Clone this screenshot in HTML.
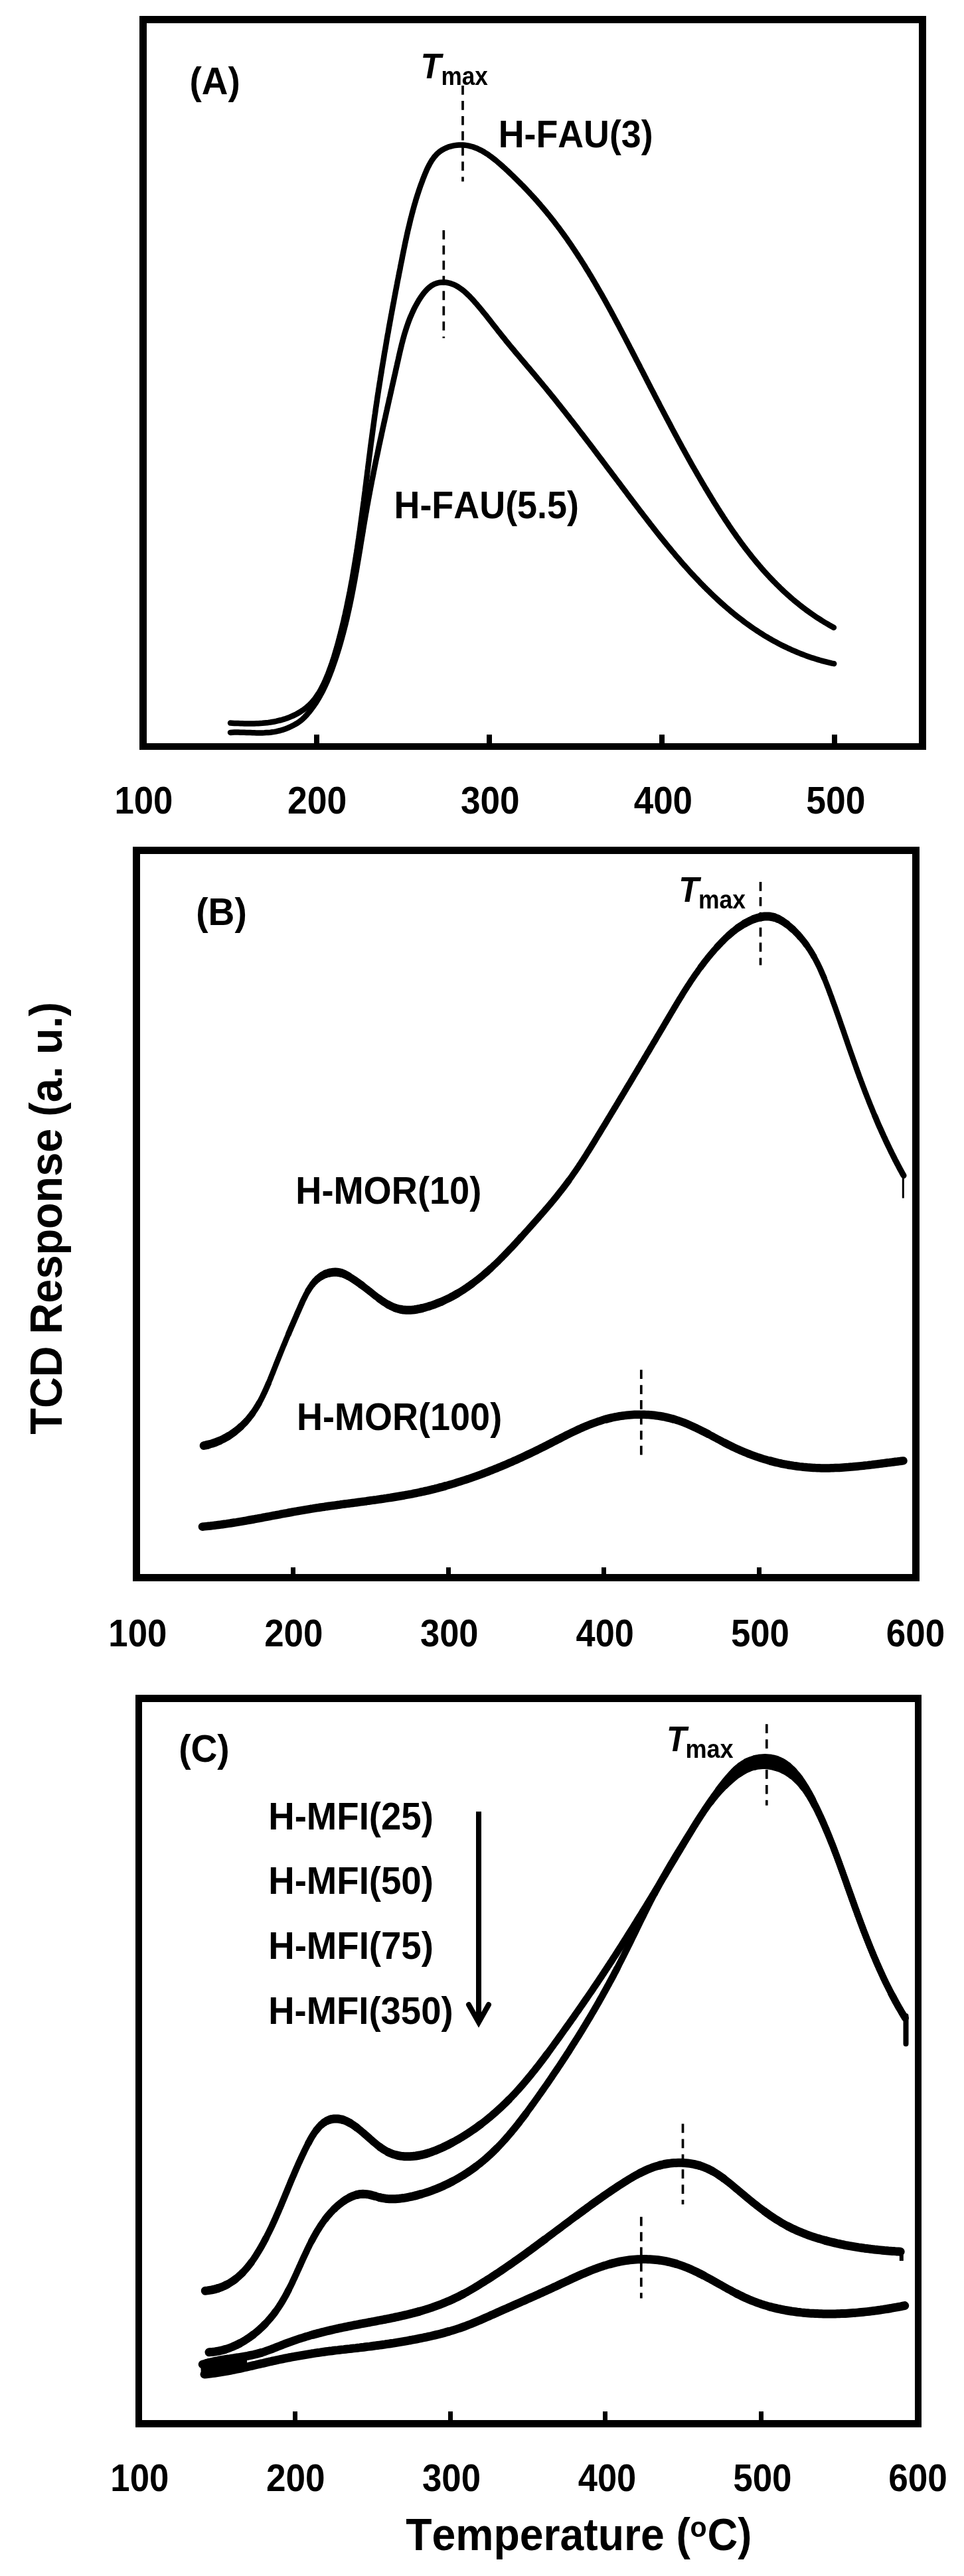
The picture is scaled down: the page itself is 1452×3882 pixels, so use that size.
<!DOCTYPE html><html><head><meta charset="utf-8"><style>html,body{margin:0;padding:0;background:#fff;}svg{display:block;filter:grayscale(100%);}text{font-family:"Liberation Sans",sans-serif;font-weight:bold;font-kerning:none;}</style></head><body>
<svg width="1452" height="3882" viewBox="0 0 1452 3882">
<rect width="1452" height="3882" fill="#fff"/>
<rect x="210.0" y="24.0" width="11.0" height="1106.0" fill="#000"/><rect x="1384.0" y="24.0" width="11.0" height="1106.0" fill="#000"/><rect x="210.0" y="24.0" width="1185.0" height="11.0" fill="#000"/><rect x="210.0" y="1120.0" width="1185.0" height="10.0" fill="#000"/>
<rect x="200.0" y="1276.0" width="11.0" height="1107.0" fill="#000"/><rect x="1374.0" y="1276.0" width="11.0" height="1107.0" fill="#000"/><rect x="200.0" y="1276.0" width="1185.0" height="11.0" fill="#000"/><rect x="200.0" y="2372.0" width="1185.0" height="11.0" fill="#000"/>
<rect x="204.0" y="2554.0" width="10.0" height="1104.0" fill="#000"/><rect x="1378.0" y="2554.0" width="10.0" height="1104.0" fill="#000"/><rect x="204.0" y="2554.0" width="1184.0" height="11.0" fill="#000"/><rect x="204.0" y="3647.0" width="1184.0" height="11.0" fill="#000"/>
<rect x="473" y="1107" width="8" height="14" fill="#000"/>
<rect x="733" y="1107" width="8" height="14" fill="#000"/>
<rect x="993" y="1107" width="8" height="14" fill="#000"/>
<rect x="1253" y="1107" width="8" height="14" fill="#000"/>
<rect x="438" y="2362" width="7" height="11" fill="#000"/>
<rect x="672" y="2362" width="7" height="11" fill="#000"/>
<rect x="906" y="2362" width="7" height="11" fill="#000"/>
<rect x="1140" y="2362" width="7" height="11" fill="#000"/>
<rect x="441" y="3634" width="7" height="14" fill="#000"/>
<rect x="675" y="3634" width="7" height="14" fill="#000"/>
<rect x="908" y="3634" width="7" height="14" fill="#000"/>
<rect x="1143" y="3634" width="7" height="14" fill="#000"/>
<text transform="translate(172.43,1226.14) scale(0.9173,1)" font-size="57.49" font-style="normal">100</text>
<text transform="translate(432.89,1226.14) scale(0.9316,1)" font-size="57.49" font-style="normal">200</text>
<text transform="translate(693.93,1226.14) scale(0.9248,1)" font-size="57.49" font-style="normal">300</text>
<text transform="translate(954.75,1226.14) scale(0.9203,1)" font-size="57.49" font-style="normal">400</text>
<text transform="translate(1214.31,1226.14) scale(0.9293,1)" font-size="57.49" font-style="normal">500</text>
<text transform="translate(163.33,2481.23) scale(0.9084,1)" font-size="58.05" font-style="normal">100</text>
<text transform="translate(398.17,2481.23) scale(0.9107,1)" font-size="58.05" font-style="normal">200</text>
<text transform="translate(633.00,2481.23) scale(0.9040,1)" font-size="58.05" font-style="normal">300</text>
<text transform="translate(867.61,2481.23) scale(0.8996,1)" font-size="58.05" font-style="normal">400</text>
<text transform="translate(1100.98,2481.23) scale(0.9084,1)" font-size="58.05" font-style="normal">500</text>
<text transform="translate(1334.86,2481.23) scale(0.9118,1)" font-size="58.05" font-style="normal">600</text>
<text transform="translate(166.33,3754.04) scale(0.9173,1)" font-size="57.49" font-style="normal">100</text>
<text transform="translate(401.06,3754.04) scale(0.9240,1)" font-size="57.49" font-style="normal">200</text>
<text transform="translate(635.99,3754.04) scale(0.9172,1)" font-size="57.49" font-style="normal">300</text>
<text transform="translate(870.71,3754.04) scale(0.9128,1)" font-size="57.49" font-style="normal">400</text>
<text transform="translate(1104.17,3754.04) scale(0.9217,1)" font-size="57.49" font-style="normal">500</text>
<text transform="translate(1338.15,3754.04) scale(0.9251,1)" font-size="57.49" font-style="normal">600</text>
<text transform="translate(93.00,2161.63) rotate(-90) scale(0.9508,1)" font-size="68.17">TCD Response (a. u.)</text>
<text transform="translate(611.28,3843.10) scale(0.9412,1)" font-size="68.32" font-style="normal">Temperature (</text>
<text transform="translate(1039.59,3822.80) scale(0.9484,1)" font-size="43.34" font-style="normal">o</text>
<text transform="translate(1065.40,3843.10) scale(0.9274,1)" font-size="68.32" font-style="normal">C)</text>
<text transform="translate(285.46,141.60) scale(0.9570,1)" font-size="57.41" font-style="normal">(A)</text>
<text transform="translate(295.26,1393.90) scale(0.9525,1)" font-size="57.85" font-style="normal">(B)</text>
<text transform="translate(269.15,2655.40) scale(0.9635,1)" font-size="57.27" font-style="normal">(C)</text>
<text transform="translate(633.42,117.60) scale(0.9491,1)" font-size="53.34" font-style="italic">T</text>
<text transform="translate(664.48,128.10) scale(0.9165,1)" font-size="38.42" font-style="normal">max</text>
<text transform="translate(1022.36,1358.70) scale(0.9317,1)" font-size="53.63" font-style="italic">T</text>
<text transform="translate(1052.06,1368.50) scale(0.9187,1)" font-size="38.61" font-style="normal">max</text>
<text transform="translate(1003.91,2638.90) scale(0.9220,1)" font-size="53.49" font-style="italic">T</text>
<text transform="translate(1032.42,2648.50) scale(0.9257,1)" font-size="38.99" font-style="normal">max</text>
<text transform="translate(750.80,221.70) scale(0.9362,1)" font-size="57.41" font-style="normal">H-FAU(3)</text>
<text transform="translate(593.49,780.70) scale(0.9537,1)" font-size="56.54" font-style="normal">H-FAU(5.5)</text>
<text transform="translate(445.27,1814.10) scale(0.9346,1)" font-size="58.00" font-style="normal">H-MOR(10)</text>
<text transform="translate(446.99,2154.70) scale(0.9483,1)" font-size="56.98" font-style="normal">H-MOR(100)</text>
<text transform="translate(404.25,2756.90) scale(0.9389,1)" font-size="58.14" font-style="normal">H-MFI(25)</text>
<text transform="translate(404.25,2853.90) scale(0.9437,1)" font-size="57.85" font-style="normal">H-MFI(50)</text>
<text transform="translate(404.25,2951.90) scale(0.9413,1)" font-size="58.00" font-style="normal">H-MFI(75)</text>
<text transform="translate(404.26,3049.50) scale(0.9367,1)" font-size="58.14" font-style="normal">H-MFI(350)</text>
<line x1="721" y1="2730" x2="721" y2="3048" stroke="#000" stroke-width="8"/>
<polyline points="706,3021 721,3047.6 736,3021" fill="none" stroke="#000" stroke-width="8" stroke-linecap="round" stroke-linejoin="miter" stroke-miterlimit="10"/>
<line x1="697" y1="129.1" x2="697" y2="273.6" stroke="#000" stroke-width="3.7" stroke-dasharray="13.7,9.2"/>
<line x1="668.3" y1="347" x2="668.3" y2="509.4" stroke="#000" stroke-width="3.7" stroke-dasharray="13.7,9.2"/>
<line x1="1145.5" y1="1329" x2="1145.5" y2="1454.5" stroke="#000" stroke-width="3.7" stroke-dasharray="13.7,9.2"/>
<line x1="965.8" y1="2064.3" x2="965.8" y2="2192.4" stroke="#000" stroke-width="3.7" stroke-dasharray="13.7,9.2"/>
<line x1="1154.8" y1="2598.3" x2="1154.8" y2="2720.8" stroke="#000" stroke-width="3.7" stroke-dasharray="13.7,9.2"/>
<line x1="1028.5" y1="3200.6" x2="1028.5" y2="3322" stroke="#000" stroke-width="3.7" stroke-dasharray="13.7,9.2"/>
<line x1="965.8" y1="3340.8" x2="965.8" y2="3463.6" stroke="#000" stroke-width="3.7" stroke-dasharray="13.7,9.2"/>
<path d="M347.0,1089.6 L350.0,1089.7 L353.0,1089.9 L356.0,1090.0 L359.0,1090.1 L362.0,1090.2 L365.0,1090.3 L368.0,1090.4 L371.0,1090.4 L374.0,1090.5 L377.1,1090.5 L380.1,1090.4 L383.1,1090.4 L386.1,1090.3 L389.1,1090.2 L392.1,1090.0 L395.1,1089.8 L398.1,1089.5 L401.1,1089.2 L404.1,1088.9 L407.0,1088.5 L410.0,1088.0 L413.0,1087.5 L415.9,1086.9 L418.8,1086.2 L421.7,1085.5 L424.6,1084.8 L427.5,1083.9 L430.4,1083.0 L433.2,1082.0 L436.1,1080.9 L438.9,1079.7 L441.6,1078.5 L444.4,1077.2 L447.1,1075.8 L449.7,1074.3 L452.3,1072.8 L454.8,1071.1 L457.3,1069.4 L459.7,1067.6 L462.0,1065.8 L464.3,1063.8 L466.4,1061.8 L468.5,1059.7 L470.5,1057.5 L472.4,1055.2 L474.3,1052.9 L476.0,1050.5 L477.7,1048.0 L479.4,1045.5 L481.0,1043.0 L482.5,1040.4 L483.9,1037.7 L485.3,1035.0 L486.7,1032.3 L488.0,1029.6 L489.3,1026.8 L490.5,1024.0 L491.7,1021.2 L492.8,1018.4 L494.0,1015.6 L495.1,1012.8 L496.1,1009.9 L497.2,1007.1 L498.2,1004.3 L499.2,1001.4 L500.2,998.6 L501.1,995.7 L502.1,992.8 L503.0,990.0 L503.9,987.1 L504.7,984.2 L505.6,981.4 L506.4,978.5 L507.3,975.6 L508.1,972.7 L508.9,969.8 L509.7,966.9 L510.4,964.0 L511.2,961.1 L511.9,958.2 L512.7,955.3 L513.4,952.4 L514.2,949.5 L514.9,946.6 L515.6,943.7 L516.3,940.8 L517.0,937.9 L517.7,934.9 L518.3,932.0 L519.0,929.1 L519.7,926.2 L520.3,923.3 L520.9,920.3 L521.6,917.4 L522.2,914.5 L522.8,911.6 L523.4,908.6 L524.0,905.7 L524.6,902.8 L525.2,899.8 L525.8,896.9 L526.4,893.9 L527.0,891.0 L527.5,888.1 L528.1,885.1 L528.6,882.2 L529.2,879.2 L529.7,876.3 L530.3,873.3 L530.8,870.4 L531.3,867.4 L531.8,864.5 L532.3,861.5 L532.8,858.5 L533.3,855.6 L533.8,852.6 L534.3,849.7 L534.8,846.7 L535.3,843.7 L535.8,840.8 L536.2,837.8 L536.7,834.8 L537.2,831.9 L537.6,828.9 L538.1,825.9 L538.5,823.0 L539.0,820.0 L539.4,817.0 L539.8,814.1 L540.3,811.1 L540.7,808.1 L541.1,805.1 L541.6,802.2 L542.0,799.2 L542.4,796.2 L542.8,793.2 L543.2,790.2 L543.6,787.3 L544.0,784.3 L544.4,781.3 L544.8,778.3 L545.2,775.3 L545.6,772.4 L546.0,769.4 L546.4,766.4 L546.8,763.4 L547.2,760.4 L547.6,757.4 L548.0,754.5 L548.3,751.5 L548.7,748.5 L549.1,745.5 L549.5,742.5 L549.9,739.5 L550.2,736.5 L550.6,733.6 L551.0,730.6 L551.4,727.6 L551.7,724.6 L552.1,721.6 L552.5,718.6 L552.9,715.6 L553.2,712.6 L553.6,709.7 L554.0,706.7 L554.3,703.7 L554.7,700.7 L555.1,697.7 L555.5,694.7 L555.8,691.7 L556.2,688.7 L556.6,685.8 L557.0,682.8 L557.4,679.8 L557.7,676.8 L558.1,673.8 L558.5,670.8 L558.9,667.8 L559.3,664.9 L559.7,661.9 L560.1,658.9 L560.5,655.9 L560.9,652.9 L561.3,649.9 L561.7,646.9 L562.1,644.0 L562.5,641.0 L562.9,638.0 L563.3,635.0 L563.7,632.0 L564.1,629.1 L564.5,626.1 L565.0,623.1 L565.4,620.1 L565.8,617.2 L566.2,614.2 L566.7,611.2 L567.1,608.2 L567.6,605.3 L568.0,602.3 L568.4,599.3 L568.9,596.3 L569.3,593.4 L569.8,590.4 L570.2,587.4 L570.7,584.5 L571.2,581.5 L571.6,578.5 L572.1,575.5 L572.6,572.6 L573.0,569.6 L573.5,566.6 L574.0,563.7 L574.5,560.7 L574.9,557.7 L575.4,554.8 L575.9,551.8 L576.4,548.9 L576.9,545.9 L577.4,542.9 L577.9,540.0 L578.4,537.0 L578.8,534.1 L579.3,531.1 L579.9,528.1 L580.4,525.2 L580.9,522.2 L581.4,519.3 L581.9,516.3 L582.4,513.3 L582.9,510.4 L583.4,507.4 L583.9,504.5 L584.5,501.5 L585.0,498.6 L585.5,495.6 L586.0,492.7 L586.6,489.7 L587.1,486.8 L587.6,483.8 L588.2,480.9 L588.7,477.9 L589.2,475.0 L589.8,472.0 L590.3,469.1 L590.9,466.1 L591.4,463.2 L592.0,460.2 L592.5,457.3 L593.1,454.3 L593.6,451.4 L594.2,448.4 L594.7,445.5 L595.3,442.6 L595.8,439.6 L596.4,436.7 L597.0,433.7 L597.5,430.8 L598.1,427.8 L598.6,424.9 L599.2,422.0 L599.8,419.0 L600.4,416.1 L600.9,413.1 L601.5,410.2 L602.1,407.3 L602.7,404.3 L603.2,401.4 L603.8,398.5 L604.4,395.5 L605.0,392.6 L605.6,389.7 L606.1,386.7 L606.7,383.8 L607.3,380.9 L607.9,377.9 L608.5,375.0 L609.1,372.1 L609.7,369.1 L610.3,366.2 L610.9,363.3 L611.6,360.3 L612.2,357.4 L612.8,354.5 L613.5,351.6 L614.1,348.6 L614.8,345.7 L615.5,342.8 L616.2,339.9 L616.9,337.0 L617.6,334.0 L618.3,331.1 L619.0,328.2 L619.8,325.3 L620.5,322.4 L621.3,319.5 L622.1,316.5 L622.9,313.6 L623.7,310.7 L624.5,307.8 L625.4,304.9 L626.2,302.0 L627.1,299.1 L628.0,296.2 L628.9,293.3 L629.9,290.4 L630.8,287.5 L631.8,284.6 L632.8,281.7 L633.8,278.8 L634.9,275.9 L636.0,273.0 L637.0,270.1 L638.2,267.2 L639.3,264.3 L640.5,261.4 L641.7,258.6 L642.9,255.7 L644.2,252.9 L645.6,250.2 L647.0,247.5 L648.5,244.9 L650.0,242.3 L651.7,239.9 L653.4,237.5 L655.2,235.3 L657.2,233.1 L659.2,231.1 L661.4,229.2 L663.7,227.5 L666.1,225.9 L668.7,224.5 L671.3,223.2 L674.0,222.1 L676.8,221.1 L679.6,220.3 L682.5,219.6 L685.4,219.1 L688.4,218.7 L691.3,218.5 L694.2,218.4 L697.2,218.5 L700.0,218.7 L702.9,219.1 L705.7,219.6 L708.5,220.3 L711.2,221.0 L714.0,221.9 L716.7,222.9 L719.3,224.0 L722.0,225.3 L724.6,226.6 L727.2,228.0 L729.7,229.5 L732.2,231.1 L734.8,232.7 L737.2,234.5 L739.7,236.2 L742.1,238.1 L744.6,240.0 L747.0,241.9 L749.3,243.9 L751.7,245.9 L754.1,248.0 L756.4,250.0 L758.7,252.1 L761.0,254.2 L763.3,256.3 L765.5,258.4 L767.8,260.6 L770.0,262.7 L772.2,264.8 L774.4,266.9 L776.6,269.1 L778.8,271.2 L781.0,273.4 L783.1,275.5 L785.2,277.7 L787.4,279.8 L789.5,282.0 L791.6,284.2 L793.6,286.4 L795.7,288.6 L797.8,290.8 L799.8,293.0 L801.8,295.2 L803.9,297.4 L805.9,299.6 L807.9,301.8 L809.8,304.1 L811.8,306.3 L813.8,308.6 L815.7,310.9 L817.6,313.1 L819.5,315.4 L821.5,317.7 L823.4,320.0 L825.2,322.3 L827.1,324.6 L829.0,326.9 L830.8,329.3 L832.7,331.6 L834.5,333.9 L836.3,336.3 L838.1,338.7 L839.9,341.0 L841.7,343.4 L843.5,345.8 L845.3,348.2 L847.0,350.6 L848.8,353.0 L850.5,355.5 L852.3,357.9 L854.0,360.3 L855.7,362.8 L857.4,365.2 L859.1,367.7 L860.8,370.2 L862.4,372.6 L864.1,375.1 L865.8,377.6 L867.4,380.1 L869.1,382.6 L870.7,385.1 L872.3,387.6 L874.0,390.1 L875.6,392.7 L877.2,395.2 L878.8,397.7 L880.4,400.3 L881.9,402.8 L883.5,405.4 L885.1,407.9 L886.7,410.5 L888.2,413.1 L889.8,415.6 L891.3,418.2 L892.8,420.8 L894.4,423.4 L895.9,426.0 L897.4,428.6 L898.9,431.2 L900.4,433.8 L901.9,436.4 L903.4,439.0 L904.9,441.6 L906.4,444.2 L907.9,446.9 L909.4,449.5 L910.8,452.1 L912.3,454.8 L913.8,457.4 L915.2,460.0 L916.7,462.7 L918.1,465.3 L919.6,468.0 L921.0,470.6 L922.4,473.3 L923.9,475.9 L925.3,478.6 L926.7,481.2 L928.1,483.9 L929.6,486.6 L931.0,489.2 L932.4,491.9 L933.8,494.6 L935.2,497.2 L936.6,499.9 L938.0,502.6 L939.4,505.2 L940.8,507.9 L942.2,510.6 L943.6,513.3 L945.0,515.9 L946.4,518.6 L947.8,521.3 L949.1,524.0 L950.5,526.6 L951.9,529.3 L953.3,532.0 L954.7,534.7 L956.1,537.3 L957.4,540.0 L958.8,542.7 L960.2,545.4 L961.6,548.0 L963.0,550.7 L964.3,553.4 L965.7,556.1 L967.1,558.7 L968.5,561.4 L969.8,564.1 L971.2,566.7 L972.6,569.4 L973.9,572.1 L975.3,574.8 L976.7,577.4 L978.1,580.1 L979.4,582.8 L980.8,585.4 L982.2,588.1 L983.6,590.8 L985.0,593.4 L986.3,596.1 L987.7,598.8 L989.1,601.4 L990.5,604.1 L991.9,606.7 L993.2,609.4 L994.6,612.1 L996.0,614.7 L997.4,617.4 L998.8,620.0 L1000.2,622.7 L1001.6,625.4 L1003.0,628.0 L1004.4,630.7 L1005.8,633.3 L1007.2,636.0 L1008.6,638.6 L1010.0,641.3 L1011.4,643.9 L1012.8,646.6 L1014.2,649.2 L1015.6,651.8 L1017.0,654.5 L1018.4,657.1 L1019.9,659.8 L1021.3,662.4 L1022.7,665.0 L1024.1,667.7 L1025.6,670.3 L1027.0,672.9 L1028.4,675.6 L1029.9,678.2 L1031.3,680.8 L1032.8,683.5 L1034.2,686.1 L1035.7,688.7 L1037.1,691.3 L1038.6,693.9 L1040.1,696.6 L1041.5,699.2 L1043.0,701.8 L1044.5,704.4 L1046.0,707.0 L1047.5,709.6 L1049.0,712.2 L1050.5,714.8 L1052.0,717.4 L1053.5,720.0 L1055.0,722.6 L1056.5,725.2 L1058.0,727.8 L1059.6,730.4 L1061.1,733.0 L1062.6,735.6 L1064.2,738.1 L1065.7,740.7 L1067.3,743.3 L1068.8,745.9 L1070.4,748.4 L1071.9,751.0 L1073.5,753.6 L1075.1,756.2 L1076.7,758.7 L1078.3,761.3 L1079.9,763.8 L1081.5,766.4 L1083.1,768.9 L1084.7,771.5 L1086.3,774.0 L1088.0,776.5 L1089.6,779.1 L1091.3,781.6 L1092.9,784.1 L1094.6,786.6 L1096.3,789.1 L1097.9,791.6 L1099.6,794.1 L1101.3,796.6 L1103.0,799.1 L1104.7,801.6 L1106.5,804.0 L1108.2,806.5 L1109.9,809.0 L1111.7,811.4 L1113.5,813.8 L1115.2,816.3 L1117.0,818.7 L1118.8,821.1 L1120.6,823.5 L1122.4,825.9 L1124.2,828.3 L1126.1,830.7 L1127.9,833.0 L1129.8,835.4 L1131.6,837.8 L1133.5,840.1 L1135.4,842.4 L1137.3,844.7 L1139.2,847.0 L1141.1,849.3 L1143.1,851.6 L1145.0,853.9 L1147.0,856.2 L1148.9,858.4 L1150.9,860.7 L1152.9,862.9 L1154.9,865.1 L1157.0,867.3 L1159.0,869.5 L1161.1,871.7 L1163.1,873.8 L1165.2,876.0 L1167.3,878.1 L1169.4,880.2 L1171.5,882.3 L1173.7,884.4 L1175.8,886.5 L1178.0,888.6 L1180.1,890.6 L1182.3,892.7 L1184.5,894.7 L1186.8,896.7 L1189.0,898.7 L1191.3,900.7 L1193.5,902.6 L1195.8,904.6 L1198.1,906.5 L1200.5,908.4 L1202.8,910.3 L1205.1,912.2 L1207.5,914.0 L1209.9,915.8 L1212.3,917.7 L1214.7,919.5 L1217.2,921.3 L1219.6,923.0 L1222.1,924.8 L1224.6,926.5 L1227.1,928.2 L1229.6,929.9 L1232.2,931.6 L1234.7,933.2 L1237.3,934.9 L1239.9,936.5 L1242.5,938.1 L1245.2,939.6 L1247.8,941.2 L1250.5,942.7 L1253.2,944.2 L1255.9,945.7" fill="none" stroke="#000" stroke-width="8.5" stroke-linejoin="round" stroke-linecap="round" />
<path d="M347.0,1103.9 L350.0,1103.7 L353.0,1103.6 L356.0,1103.6 L359.0,1103.6 L362.0,1103.7 L365.0,1103.7 L368.0,1103.8 L371.1,1103.9 L374.1,1104.0 L377.1,1104.1 L380.1,1104.2 L383.1,1104.3 L386.2,1104.4 L389.2,1104.4 L392.2,1104.4 L395.2,1104.4 L398.2,1104.3 L401.2,1104.1 L404.1,1103.9 L407.1,1103.7 L410.1,1103.3 L413.0,1102.9 L415.9,1102.4 L418.9,1101.7 L421.8,1101.0 L424.7,1100.2 L427.5,1099.2 L430.4,1098.2 L433.2,1097.1 L436.0,1095.8 L438.8,1094.6 L441.5,1093.2 L444.2,1091.8 L446.8,1090.3 L449.4,1088.7 L451.8,1086.9 L454.1,1085.1 L456.4,1083.1 L458.5,1081.0 L460.6,1078.8 L462.6,1076.6 L464.6,1074.3 L466.5,1072.0 L468.3,1069.6 L470.1,1067.2 L471.9,1064.8 L473.6,1062.4 L475.3,1059.9 L476.9,1057.4 L478.5,1054.8 L480.0,1052.3 L481.5,1049.7 L482.9,1047.1 L484.4,1044.4 L485.8,1041.8 L487.1,1039.1 L488.4,1036.4 L489.7,1033.6 L490.9,1030.9 L492.2,1028.1 L493.4,1025.4 L494.5,1022.6 L495.7,1019.8 L496.8,1017.0 L497.9,1014.1 L499.0,1011.3 L500.0,1008.5 L501.0,1005.6 L502.0,1002.8 L503.0,999.9 L504.0,997.1 L505.0,994.2 L505.9,991.3 L506.9,988.5 L507.8,985.6 L508.7,982.7 L509.6,979.8 L510.5,977.0 L511.3,974.1 L512.2,971.2 L513.0,968.3 L513.8,965.4 L514.6,962.5 L515.4,959.6 L516.2,956.7 L517.0,953.8 L517.7,950.9 L518.5,948.0 L519.2,945.1 L520.0,942.2 L520.7,939.2 L521.4,936.3 L522.1,933.4 L522.8,930.5 L523.4,927.6 L524.1,924.6 L524.7,921.7 L525.4,918.8 L526.0,915.8 L526.7,912.9 L527.3,910.0 L527.9,907.0 L528.5,904.1 L529.1,901.1 L529.7,898.2 L530.3,895.2 L530.8,892.3 L531.4,889.3 L532.0,886.4 L532.5,883.4 L533.1,880.5 L533.6,877.5 L534.2,874.6 L534.7,871.6 L535.2,868.7 L535.7,865.7 L536.3,862.7 L536.8,859.8 L537.3,856.8 L537.8,853.9 L538.3,850.9 L538.8,847.9 L539.3,845.0 L539.8,842.0 L540.3,839.0 L540.8,836.1 L541.3,833.1 L541.8,830.1 L542.3,827.2 L542.8,824.2 L543.2,821.2 L543.7,818.3 L544.2,815.3 L544.7,812.3 L545.2,809.4 L545.7,806.4 L546.2,803.4 L546.7,800.5 L547.1,797.5 L547.6,794.5 L548.1,791.6 L548.6,788.6 L549.1,785.6 L549.6,782.7 L550.1,779.7 L550.6,776.7 L551.1,773.8 L551.7,770.8 L552.2,767.8 L552.7,764.9 L553.2,761.9 L553.8,759.0 L554.3,756.0 L554.8,753.0 L555.4,750.1 L555.9,747.1 L556.5,744.2 L557.0,741.2 L557.6,738.3 L558.1,735.3 L558.7,732.4 L559.3,729.4 L559.8,726.5 L560.4,723.5 L561.0,720.6 L561.6,717.6 L562.2,714.7 L562.7,711.7 L563.3,708.8 L563.9,705.8 L564.5,702.9 L565.1,699.9 L565.7,697.0 L566.3,694.0 L566.9,691.1 L567.5,688.2 L568.2,685.2 L568.8,682.3 L569.4,679.3 L570.0,676.4 L570.6,673.4 L571.2,670.5 L571.9,667.6 L572.5,664.6 L573.1,661.7 L573.8,658.8 L574.4,655.8 L575.0,652.9 L575.7,649.9 L576.3,647.0 L576.9,644.1 L577.6,641.1 L578.2,638.2 L578.9,635.3 L579.5,632.3 L580.2,629.4 L580.8,626.5 L581.5,623.5 L582.1,620.6 L582.8,617.7 L583.4,614.7 L584.1,611.8 L584.7,608.9 L585.4,605.9 L586.0,603.0 L586.7,600.1 L587.4,597.1 L588.0,594.2 L588.7,591.3 L589.3,588.3 L590.0,585.4 L590.6,582.5 L591.3,579.5 L592.0,576.6 L592.6,573.7 L593.3,570.8 L593.9,567.8 L594.6,564.9 L595.3,562.0 L595.9,559.0 L596.6,556.1 L597.2,553.2 L597.9,550.2 L598.5,547.3 L599.2,544.4 L599.9,541.4 L600.5,538.5 L601.2,535.6 L601.8,532.7 L602.5,529.7 L603.2,526.8 L603.9,523.9 L604.6,521.0 L605.3,518.1 L606.1,515.2 L606.8,512.3 L607.6,509.4 L608.4,506.5 L609.2,503.6 L610.1,500.7 L611.0,497.9 L611.9,495.0 L612.8,492.2 L613.8,489.4 L614.8,486.5 L615.8,483.7 L616.9,480.9 L618.0,478.1 L619.2,475.4 L620.4,472.6 L621.6,469.9 L622.9,467.1 L624.2,464.4 L625.6,461.7 L627.1,459.0 L628.6,456.4 L630.1,453.7 L631.7,451.1 L633.4,448.5 L635.2,445.9 L637.0,443.4 L638.8,441.0 L640.8,438.7 L642.8,436.6 L644.9,434.5 L647.2,432.6 L649.4,430.9 L651.8,429.4 L654.3,428.1 L656.9,427.1 L659.6,426.3 L662.4,425.7 L665.3,425.4 L668.2,425.4 L671.1,425.5 L674.0,426.0 L676.8,426.6 L679.6,427.4 L682.4,428.4 L685.1,429.6 L687.7,431.0 L690.3,432.5 L692.8,434.2 L695.3,435.9 L697.7,437.8 L700.1,439.8 L702.4,441.9 L704.7,444.1 L707.0,446.3 L709.2,448.6 L711.4,450.9 L713.5,453.3 L715.6,455.7 L717.7,458.0 L719.7,460.4 L721.7,462.7 L723.7,465.1 L725.6,467.4 L727.5,469.8 L729.4,472.1 L731.3,474.4 L733.1,476.7 L735.0,479.1 L736.8,481.4 L738.6,483.7 L740.4,486.0 L742.2,488.3 L744.0,490.6 L745.8,492.9 L747.6,495.2 L749.4,497.5 L751.2,499.8 L753.1,502.1 L754.9,504.4 L756.7,506.7 L758.6,509.0 L760.5,511.3 L762.3,513.7 L764.2,516.0 L766.1,518.3 L768.0,520.6 L769.9,522.9 L771.9,525.2 L773.8,527.5 L775.7,529.9 L777.7,532.2 L779.6,534.5 L781.6,536.8 L783.5,539.1 L785.5,541.5 L787.4,543.8 L789.4,546.1 L791.4,548.4 L793.3,550.8 L795.3,553.1 L797.3,555.4 L799.3,557.8 L801.2,560.1 L803.2,562.4 L805.2,564.8 L807.1,567.1 L809.1,569.4 L811.0,571.8 L813.0,574.1 L814.9,576.4 L816.9,578.8 L818.8,581.1 L820.7,583.4 L822.7,585.8 L824.6,588.1 L826.5,590.5 L828.4,592.8 L830.3,595.1 L832.2,597.5 L834.1,599.8 L836.0,602.2 L837.9,604.5 L839.7,606.9 L841.6,609.2 L843.5,611.5 L845.3,613.9 L847.2,616.2 L849.1,618.6 L850.9,620.9 L852.8,623.3 L854.6,625.6 L856.5,628.0 L858.3,630.3 L860.1,632.7 L862.0,635.0 L863.8,637.4 L865.6,639.7 L867.5,642.1 L869.3,644.4 L871.1,646.8 L872.9,649.2 L874.7,651.5 L876.5,653.9 L878.3,656.2 L880.2,658.6 L882.0,661.0 L883.8,663.3 L885.6,665.7 L887.4,668.0 L889.2,670.4 L891.0,672.8 L892.8,675.1 L894.6,677.5 L896.3,679.9 L898.1,682.2 L899.9,684.6 L901.7,687.0 L903.5,689.4 L905.3,691.7 L907.1,694.1 L908.9,696.5 L910.7,698.8 L912.5,701.2 L914.2,703.6 L916.0,706.0 L917.8,708.4 L919.6,710.7 L921.4,713.1 L923.2,715.5 L925.0,717.9 L926.8,720.3 L928.6,722.7 L930.4,725.0 L932.2,727.4 L934.0,729.8 L935.8,732.2 L937.6,734.6 L939.4,737.0 L941.2,739.4 L943.0,741.8 L944.8,744.2 L946.6,746.6 L948.4,749.0 L950.2,751.4 L952.0,753.8 L953.9,756.2 L955.7,758.6 L957.5,761.0 L959.3,763.4 L961.2,765.8 L963.0,768.2 L964.8,770.6 L966.7,773.0 L968.5,775.4 L970.4,777.8 L972.2,780.2 L974.1,782.6 L975.9,785.0 L977.8,787.4 L979.6,789.8 L981.5,792.2 L983.4,794.6 L985.3,797.0 L987.1,799.4 L989.0,801.8 L990.9,804.2 L992.8,806.6 L994.7,809.0 L996.6,811.3 L998.5,813.7 L1000.4,816.1 L1002.4,818.4 L1004.3,820.8 L1006.2,823.1 L1008.2,825.5 L1010.1,827.8 L1012.0,830.2 L1014.0,832.5 L1016.0,834.8 L1017.9,837.2 L1019.9,839.5 L1021.9,841.8 L1023.9,844.1 L1025.8,846.4 L1027.8,848.7 L1029.8,851.0 L1031.9,853.2 L1033.9,855.5 L1035.9,857.8 L1037.9,860.0 L1040.0,862.3 L1042.0,864.5 L1044.1,866.7 L1046.1,868.9 L1048.2,871.1 L1050.3,873.3 L1052.4,875.5 L1054.4,877.7 L1056.5,879.9 L1058.7,882.0 L1060.8,884.2 L1062.9,886.3 L1065.0,888.4 L1067.2,890.5 L1069.3,892.6 L1071.5,894.7 L1073.6,896.8 L1075.8,898.9 L1078.0,900.9 L1080.2,903.0 L1082.4,905.0 L1084.6,907.0 L1086.8,909.0 L1089.1,911.0 L1091.3,913.0 L1093.5,914.9 L1095.8,916.9 L1098.1,918.8 L1100.3,920.7 L1102.6,922.6 L1104.9,924.5 L1107.2,926.4 L1109.6,928.3 L1111.9,930.1 L1114.2,931.9 L1116.6,933.7 L1119.0,935.5 L1121.3,937.3 L1123.7,939.1 L1126.1,940.8 L1128.5,942.5 L1130.9,944.2 L1133.4,945.9 L1135.8,947.6 L1138.3,949.3 L1140.7,950.9 L1143.2,952.5 L1145.7,954.1 L1148.2,955.7 L1150.7,957.3 L1153.2,958.8 L1155.8,960.3 L1158.3,961.8 L1160.9,963.3 L1163.4,964.8 L1166.0,966.2 L1168.6,967.6 L1171.2,969.0 L1173.9,970.4 L1176.5,971.8 L1179.2,973.1 L1181.8,974.4 L1184.5,975.7 L1187.2,977.0 L1189.9,978.2 L1192.6,979.5 L1195.4,980.7 L1198.1,981.8 L1200.9,983.0 L1203.7,984.1 L1206.4,985.2 L1209.2,986.3 L1212.1,987.4 L1214.9,988.4 L1217.7,989.4 L1220.6,990.4 L1223.5,991.4 L1226.4,992.3 L1229.3,993.2 L1232.2,994.1 L1235.2,995.0 L1238.1,995.8 L1241.1,996.6 L1244.1,997.4 L1247.1,998.2 L1250.1,998.9 L1253.1,999.6 L1256.2,1000.2" fill="none" stroke="#000" stroke-width="8.5" stroke-linejoin="round" stroke-linecap="round" />
<path d="M307.1,2178.5 L310.1,2177.9 L313.2,2177.2" fill="none" stroke="#000" stroke-width="13.0" stroke-linejoin="round" stroke-linecap="round"/><path d="M313.2,2177.2 L316.2,2176.3 L319.2,2175.5 L322.1,2174.5 L325.0,2173.5 L327.8,2172.3 L330.6,2171.2" fill="none" stroke="#000" stroke-width="12.5" stroke-linejoin="round" stroke-linecap="round"/><path d="M330.6,2171.2 L333.3,2169.9 L336.0,2168.6 L338.7,2167.2 L341.3,2165.8 L343.9,2164.2" fill="none" stroke="#000" stroke-width="12.0" stroke-linejoin="round" stroke-linecap="round"/><path d="M343.9,2164.2 L346.4,2162.7 L348.9,2161.0 L351.3,2159.3 L353.7,2157.5" fill="none" stroke="#000" stroke-width="11.5" stroke-linejoin="round" stroke-linecap="round"/><path d="M353.7,2157.5 L356.0,2155.7 L358.3,2153.9 L360.6,2151.9 L362.8,2149.9" fill="none" stroke="#000" stroke-width="11.0" stroke-linejoin="round" stroke-linecap="round"/><path d="M362.8,2149.9 L364.9,2147.9 L367.0,2145.8 L369.1,2143.7 L371.1,2141.5" fill="none" stroke="#000" stroke-width="10.5" stroke-linejoin="round" stroke-linecap="round"/><path d="M371.1,2141.5 L373.1,2139.3 L375.0,2137.0 L376.8,2134.7 L378.7,2132.3 L380.4,2129.9" fill="none" stroke="#000" stroke-width="10.0" stroke-linejoin="round" stroke-linecap="round"/><path d="M380.4,2129.9 L382.1,2127.4 L383.8,2125.0 L385.4,2122.4 L387.0,2119.9 L388.6,2117.3 L390.1,2114.7" fill="none" stroke="#000" stroke-width="9.5" stroke-linejoin="round" stroke-linecap="round"/><path d="M390.1,2114.7 L391.5,2112.1 L393.0,2109.4 L394.3,2106.7 L395.7,2104.0 L397.0,2101.2 L398.3,2098.5 L399.6,2095.7 L400.8,2092.9 L402.1,2090.1 L403.3,2087.3 L404.5,2084.5" fill="none" stroke="#000" stroke-width="9.0" stroke-linejoin="round" stroke-linecap="round"/><path d="M404.5,2084.5 L405.6,2081.7 L406.8,2078.9 L407.9,2076.1 L409.0,2073.2 L410.2,2070.4 L411.3,2067.6 L412.4,2064.8 L413.5,2062.0 L414.6,2059.2 L415.7,2056.4 L416.8,2053.6 L417.9,2050.9 L419.0,2048.1 L420.1,2045.4 L421.2,2042.6 L422.3,2039.9 L423.4,2037.2 L424.5,2034.5 L425.6,2031.7 L426.7,2029.0 L427.9,2026.3 L429.0,2023.6 L430.1,2020.9 L431.2,2018.1 L432.4,2015.4 L433.5,2012.7 L434.7,2010.0" fill="none" stroke="#000" stroke-width="8.5" stroke-linejoin="round" stroke-linecap="round"/><path d="M434.7,2010.0 L435.8,2007.2 L437.0,2004.5 L438.1,2001.8 L439.3,1999.0 L440.5,1996.3 L441.7,1993.5 L442.9,1990.7 L444.1,1988.0 L445.3,1985.2 L446.5,1982.4 L447.7,1979.5 L449.0,1976.7 L450.2,1973.9 L451.5,1971.0 L452.7,1968.2 L454.0,1965.3 L455.3,1962.4 L456.6,1959.5 L458.0,1956.7 L459.4,1953.9 L460.8,1951.1 L462.3,1948.3 L463.8,1945.6" fill="none" stroke="#000" stroke-width="9.0" stroke-linejoin="round" stroke-linecap="round"/><path d="M463.8,1945.6 L465.4,1943.0 L467.0,1940.5 L468.7,1938.0 L470.5,1935.6" fill="none" stroke="#000" stroke-width="9.5" stroke-linejoin="round" stroke-linecap="round"/><path d="M470.5,1935.6 L472.4,1933.3 L474.3,1931.2" fill="none" stroke="#000" stroke-width="10.0" stroke-linejoin="round" stroke-linecap="round"/><path d="M474.3,1931.2 L476.3,1929.1 L478.4,1927.2" fill="none" stroke="#000" stroke-width="10.5" stroke-linejoin="round" stroke-linecap="round"/><path d="M478.4,1927.2 L480.6,1925.4 L483.0,1923.8" fill="none" stroke="#000" stroke-width="11.0" stroke-linejoin="round" stroke-linecap="round"/><path d="M483.0,1923.8 L485.4,1922.3" fill="none" stroke="#000" stroke-width="11.5" stroke-linejoin="round" stroke-linecap="round"/><path d="M485.4,1922.3 L487.9,1921.0 L490.5,1919.8" fill="none" stroke="#000" stroke-width="12.0" stroke-linejoin="round" stroke-linecap="round"/><path d="M490.5,1919.8 L493.3,1918.9 L496.1,1918.1" fill="none" stroke="#000" stroke-width="12.5" stroke-linejoin="round" stroke-linecap="round"/><path d="M496.1,1918.1 L499.1,1917.6 L502.0,1917.2 L505.0,1917.1 L508.0,1917.3 L510.9,1917.7 L513.8,1918.3" fill="none" stroke="#000" stroke-width="13.0" stroke-linejoin="round" stroke-linecap="round"/><path d="M513.8,1918.3 L516.7,1919.2 L519.4,1920.4" fill="none" stroke="#000" stroke-width="12.5" stroke-linejoin="round" stroke-linecap="round"/><path d="M519.4,1920.4 L522.2,1921.7 L524.8,1923.2" fill="none" stroke="#000" stroke-width="12.0" stroke-linejoin="round" stroke-linecap="round"/><path d="M524.8,1923.2 L527.4,1924.8 L530.0,1926.4 L532.5,1928.1 L535.0,1929.7 L537.4,1931.4 L539.9,1933.2 L542.3,1934.9 L544.7,1936.7" fill="none" stroke="#000" stroke-width="11.5" stroke-linejoin="round" stroke-linecap="round"/><path d="M544.7,1936.7 L547.1,1938.5 L549.5,1940.3 L551.9,1942.2 L554.3,1944.0 L556.7,1945.9 L559.1,1947.8 L561.5,1949.7 L564.0,1951.7 L566.4,1953.6 L568.9,1955.4 L571.4,1957.3" fill="none" stroke="#000" stroke-width="11.0" stroke-linejoin="round" stroke-linecap="round"/><path d="M571.4,1957.3 L573.9,1959.1 L576.4,1960.9 L579.0,1962.6 L581.6,1964.2 L584.2,1965.7" fill="none" stroke="#000" stroke-width="11.5" stroke-linejoin="round" stroke-linecap="round"/><path d="M584.2,1965.7 L586.8,1967.2 L589.5,1968.5 L592.2,1969.7 L594.9,1970.8" fill="none" stroke="#000" stroke-width="12.0" stroke-linejoin="round" stroke-linecap="round"/><path d="M594.9,1970.8 L597.7,1971.8 L600.4,1972.6 L603.3,1973.2" fill="none" stroke="#000" stroke-width="12.5" stroke-linejoin="round" stroke-linecap="round"/><path d="M603.3,1973.2 L606.1,1973.7 L609.0,1974.1 L612.0,1974.3 L614.9,1974.3 L617.9,1974.2 L620.9,1974.0 L623.9,1973.7 L626.9,1973.3 L629.9,1972.7 L632.9,1972.1 L635.9,1971.4" fill="none" stroke="#000" stroke-width="13.0" stroke-linejoin="round" stroke-linecap="round"/><path d="M635.9,1971.4 L638.9,1970.7 L641.8,1969.8 L644.8,1969.0 L647.7,1968.0 L650.6,1967.1 L653.5,1966.1 L656.3,1965.0 L659.1,1963.9 L661.9,1962.8 L664.7,1961.7" fill="none" stroke="#000" stroke-width="12.5" stroke-linejoin="round" stroke-linecap="round"/><path d="M664.7,1961.7 L667.4,1960.5 L670.1,1959.2 L672.8,1957.9 L675.5,1956.6 L678.2,1955.3 L680.8,1953.9 L683.4,1952.5 L686.0,1951.0 L688.6,1949.5" fill="none" stroke="#000" stroke-width="12.0" stroke-linejoin="round" stroke-linecap="round"/><path d="M688.6,1949.5 L691.1,1948.0 L693.7,1946.5 L696.2,1944.9 L698.7,1943.3 L701.1,1941.6 L703.6,1940.0 L706.0,1938.3 L708.4,1936.6 L710.8,1934.8" fill="none" stroke="#000" stroke-width="11.5" stroke-linejoin="round" stroke-linecap="round"/><path d="M710.8,1934.8 L713.2,1933.0 L715.6,1931.2 L717.9,1929.4 L720.3,1927.6 L722.6,1925.7 L724.9,1923.8 L727.2,1921.9 L729.5,1919.9 L731.7,1918.0 L734.0,1916.0 L736.2,1914.0 L738.4,1912.0" fill="none" stroke="#000" stroke-width="11.0" stroke-linejoin="round" stroke-linecap="round"/><path d="M738.4,1912.0 L740.7,1910.0 L742.8,1907.9 L745.0,1905.8 L747.2,1903.8 L749.4,1901.7 L751.5,1899.6 L753.7,1897.4 L755.8,1895.3 L757.9,1893.1 L760.0,1891.0 L762.2,1888.8 L764.2,1886.6 L766.3,1884.4 L768.4,1882.2 L770.5,1880.0 L772.6,1877.8 L774.6,1875.6 L776.7,1873.4 L778.7,1871.1 L780.8,1868.9 L782.8,1866.6 L784.8,1864.4" fill="none" stroke="#000" stroke-width="10.5" stroke-linejoin="round" stroke-linecap="round"/><path d="M784.8,1864.4 L786.9,1862.1 L788.9,1859.9 L790.9,1857.6 L792.9,1855.4 L795.0,1853.1 L797.0,1850.9 L799.0,1848.6 L801.0,1846.4 L803.0,1844.1 L805.0,1841.9 L807.0,1839.6 L809.0,1837.4 L811.0,1835.1 L813.0,1832.8 L815.0,1830.6 L816.9,1828.3 L818.9,1826.1 L820.9,1823.8 L822.8,1821.5 L824.8,1819.2 L826.7,1817.0 L828.6,1814.7 L830.6,1812.4 L832.5,1810.1 L834.4,1807.8 L836.3,1805.5 L838.2,1803.1 L840.0,1800.8 L841.9,1798.5 L843.7,1796.1 L845.6,1793.8 L847.4,1791.4 L849.2,1789.1 L851.0,1786.7 L852.8,1784.3 L854.6,1781.9 L856.4,1779.5" fill="none" stroke="#000" stroke-width="10.0" stroke-linejoin="round" stroke-linecap="round"/><path d="M856.4,1779.5 L858.1,1777.0 L859.9,1774.6 L861.6,1772.2 L863.3,1769.7 L865.0,1767.3 L866.7,1764.8 L868.4,1762.3 L870.1,1759.8 L871.8,1757.3 L873.4,1754.8 L875.1,1752.3 L876.7,1749.8 L878.4,1747.3 L880.0,1744.7 L881.6,1742.2 L883.2,1739.7 L884.8,1737.1 L886.4,1734.6 L888.0,1732.0 L889.6,1729.4 L891.2,1726.9 L892.8,1724.3 L894.4,1721.7 L895.9,1719.2 L897.5,1716.6 L899.1,1714.0 L900.6,1711.4 L902.2,1708.9 L903.8,1706.3 L905.3,1703.7 L906.9,1701.1 L908.5,1698.5 L910.0,1696.0 L911.6,1693.4 L913.2,1690.8 L914.7,1688.2 L916.3,1685.6 L917.8,1683.1 L919.4,1680.5 L920.9,1677.9 L922.5,1675.3 L924.1,1672.7 L925.6,1670.1 L927.2,1667.6 L928.7,1665.0 L930.3,1662.4 L931.8,1659.8 L933.4,1657.2 L934.9,1654.6 L936.5,1652.1 L938.0,1649.5 L939.6,1646.9 L941.1,1644.3 L942.7,1641.7 L944.2,1639.1 L945.8,1636.5 L947.3,1634.0 L948.9,1631.4 L950.4,1628.8 L952.0,1626.2 L953.5,1623.6 L955.0,1621.0 L956.6,1618.5 L958.1,1615.9 L959.7,1613.3 L961.2,1610.7 L962.8,1608.1 L964.3,1605.5 L965.8,1602.9 L967.4,1600.4 L968.9,1597.8 L970.4,1595.2 L972.0,1592.6 L973.5,1590.0 L975.0,1587.4 L976.6,1584.9 L978.1,1582.3 L979.6,1579.7 L981.2,1577.1 L982.7,1574.5 L984.2,1571.9 L985.8,1569.4 L987.3,1566.8 L988.8,1564.2 L990.3,1561.6 L991.9,1559.0 L993.4,1556.4 L994.9,1553.9 L996.4,1551.3 L998.0,1548.7 L999.5,1546.1 L1001.0,1543.5 L1002.5,1541.0 L1004.0,1538.4 L1005.6,1535.8 L1007.1,1533.2 L1008.6,1530.6 L1010.1,1528.1 L1011.6,1525.5 L1013.2,1522.9 L1014.7,1520.3 L1016.2,1517.8 L1017.8,1515.2 L1019.3,1512.6 L1020.8,1510.1 L1022.4,1507.5 L1023.9,1505.0 L1025.5,1502.4 L1027.1,1499.9 L1028.6,1497.3 L1030.2,1494.8 L1031.8,1492.3 L1033.4,1489.7 L1035.0,1487.2 L1036.7,1484.7 L1038.3,1482.2 L1039.9,1479.7 L1041.6,1477.2 L1043.3,1474.7 L1044.9,1472.2 L1046.6,1469.8 L1048.4,1467.3 L1050.1,1464.9 L1051.8,1462.4 L1053.6,1460.0 L1055.4,1457.5" fill="none" stroke="#000" stroke-width="9.5" stroke-linejoin="round" stroke-linecap="round"/><path d="M1055.4,1457.5 L1057.2,1455.1 L1059.0,1452.7 L1060.8,1450.3 L1062.6,1447.9 L1064.5,1445.6 L1066.4,1443.2 L1068.3,1440.8 L1070.2,1438.5 L1072.2,1436.2 L1074.2,1433.9 L1076.2,1431.5 L1078.2,1429.3 L1080.2,1427.0" fill="none" stroke="#000" stroke-width="10.0" stroke-linejoin="round" stroke-linecap="round"/><path d="M1080.2,1427.0 L1082.3,1424.7 L1084.4,1422.5 L1086.5,1420.2 L1088.7,1418.1 L1090.8,1415.9 L1093.0,1413.7 L1095.3,1411.6 L1097.5,1409.6" fill="none" stroke="#000" stroke-width="10.5" stroke-linejoin="round" stroke-linecap="round"/><path d="M1097.5,1409.6 L1099.8,1407.6 L1102.1,1405.6 L1104.5,1403.6 L1106.9,1401.8 L1109.3,1399.9 L1111.7,1398.1" fill="none" stroke="#000" stroke-width="11.0" stroke-linejoin="round" stroke-linecap="round"/><path d="M1111.7,1398.1 L1114.2,1396.4 L1116.7,1394.8 L1119.3,1393.2 L1121.8,1391.6" fill="none" stroke="#000" stroke-width="11.5" stroke-linejoin="round" stroke-linecap="round"/><path d="M1121.8,1391.6 L1124.4,1390.2 L1127.1,1388.8 L1129.8,1387.5 L1132.5,1386.3 L1135.2,1385.1" fill="none" stroke="#000" stroke-width="12.0" stroke-linejoin="round" stroke-linecap="round"/><path d="M1135.2,1385.1 L1138.0,1384.1 L1140.8,1383.2 L1143.6,1382.4 L1146.4,1381.8" fill="none" stroke="#000" stroke-width="12.5" stroke-linejoin="round" stroke-linecap="round"/><path d="M1146.4,1381.8 L1149.3,1381.3 L1152.1,1381.0 L1154.9,1380.9 L1157.8,1381.0 L1160.6,1381.3 L1163.4,1381.8 L1166.2,1382.5" fill="none" stroke="#000" stroke-width="13.0" stroke-linejoin="round" stroke-linecap="round"/><path d="M1166.2,1382.5 L1168.9,1383.5 L1171.7,1384.6" fill="none" stroke="#000" stroke-width="12.5" stroke-linejoin="round" stroke-linecap="round"/><path d="M1171.7,1384.6 L1174.4,1385.9 L1177.0,1387.4" fill="none" stroke="#000" stroke-width="12.0" stroke-linejoin="round" stroke-linecap="round"/><path d="M1177.0,1387.4 L1179.6,1389.0 L1182.2,1390.8 L1184.8,1392.6" fill="none" stroke="#000" stroke-width="11.5" stroke-linejoin="round" stroke-linecap="round"/><path d="M1184.8,1392.6 L1187.2,1394.5 L1189.7,1396.5 L1192.0,1398.6 L1194.4,1400.7" fill="none" stroke="#000" stroke-width="11.0" stroke-linejoin="round" stroke-linecap="round"/><path d="M1194.4,1400.7 L1196.6,1402.8 L1198.8,1405.0 L1200.9,1407.2 L1203.0,1409.4 L1205.0,1411.7" fill="none" stroke="#000" stroke-width="10.5" stroke-linejoin="round" stroke-linecap="round"/><path d="M1205.0,1411.7 L1207.0,1414.0 L1208.9,1416.3 L1210.8,1418.6 L1212.6,1421.0 L1214.4,1423.4" fill="none" stroke="#000" stroke-width="10.0" stroke-linejoin="round" stroke-linecap="round"/><path d="M1214.4,1423.4 L1216.2,1425.9 L1217.8,1428.3 L1219.5,1430.8 L1221.1,1433.3 L1222.7,1435.9 L1224.2,1438.5 L1225.7,1441.0" fill="none" stroke="#000" stroke-width="9.5" stroke-linejoin="round" stroke-linecap="round"/><path d="M1225.7,1441.0 L1227.1,1443.6 L1228.5,1446.3 L1229.9,1448.9 L1231.3,1451.6 L1232.6,1454.2 L1233.9,1456.9 L1235.2,1459.7 L1236.4,1462.4 L1237.6,1465.1 L1238.8,1467.9 L1240.0,1470.6 L1241.2,1473.4" fill="none" stroke="#000" stroke-width="9.0" stroke-linejoin="round" stroke-linecap="round"/><path d="M1241.2,1473.4 L1242.3,1476.2 L1243.4,1479.0 L1244.5,1481.8 L1245.6,1484.6 L1246.7,1487.4 L1247.8,1490.2 L1248.8,1493.0 L1249.9,1495.9 L1250.9,1498.7 L1252.0,1501.5 L1253.0,1504.4 L1254.0,1507.2 L1255.0,1510.0 L1256.1,1512.9 L1257.1,1515.7 L1258.1,1518.5 L1259.1,1521.4 L1260.1,1524.2 L1261.1,1527.1 L1262.1,1529.9 L1263.1,1532.7 L1264.1,1535.6 L1265.1,1538.4 L1266.0,1541.3 L1267.0,1544.1 L1268.0,1547.0 L1269.0,1549.8 L1270.0,1552.7 L1271.0,1555.5 L1271.9,1558.3 L1272.9,1561.2 L1273.9,1564.0 L1274.9,1566.9 L1275.9,1569.7 L1276.8,1572.6 L1277.8,1575.4 L1278.8,1578.2 L1279.8,1581.1 L1280.8,1583.9 L1281.8,1586.8 L1282.8,1589.6 L1283.8,1592.4 L1284.8,1595.3 L1285.8,1598.1 L1286.8,1601.0 L1287.8,1603.8 L1288.8,1606.6 L1289.8,1609.5 L1290.8,1612.3 L1291.8,1615.1 L1292.9,1617.9 L1293.9,1620.8 L1294.9,1623.6 L1296.0,1626.4 L1297.0,1629.2 L1298.1,1632.0 L1299.1,1634.9 L1300.2,1637.7 L1301.3,1640.5 L1302.3,1643.3 L1303.4,1646.1 L1304.5,1648.9 L1305.6,1651.7 L1306.7,1654.5 L1307.8,1657.3 L1308.9,1660.1 L1310.0,1662.9 L1311.1,1665.7 L1312.3,1668.5 L1313.4,1671.2 L1314.5,1674.0 L1315.7,1676.8 L1316.8,1679.6 L1318.0,1682.3" fill="none" stroke="#000" stroke-width="8.5" stroke-linejoin="round" stroke-linecap="round"/><path d="M1318.0,1682.3 L1319.2,1685.1 L1320.4,1687.9 L1321.5,1690.6 L1322.7,1693.4 L1323.9,1696.2 L1325.1,1698.9 L1326.4,1701.7 L1327.6,1704.4 L1328.8,1707.1 L1330.1,1709.9 L1331.3,1712.6 L1332.6,1715.3 L1333.8,1718.1 L1335.1,1720.8 L1336.4,1723.5 L1337.7,1726.2 L1339.0,1728.9 L1340.3,1731.6 L1341.6,1734.3 L1342.9,1737.0 L1344.3,1739.7 L1345.6,1742.4 L1347.0,1745.1 L1348.3,1747.8 L1349.7,1750.4 L1351.1,1753.1 L1352.5,1755.8 L1353.9,1758.4 L1355.3,1761.1 L1356.7,1763.7 L1358.2,1766.4 L1359.6,1769.0 L1361.1,1771.6" fill="none" stroke="#000" stroke-width="9.0" stroke-linejoin="round" stroke-linecap="round"/>
<line x1="1360.3" y1="1765" x2="1360.3" y2="1805.6" stroke="#000" stroke-width="3"/>
<path d="M304.9,2300.7 L307.9,2300.4 L311.0,2300.1 L314.0,2299.8 L317.0,2299.5 L320.0,2299.1 L323.0,2298.8 L326.0,2298.4 L329.0,2298.0 L332.0,2297.6 L335.0,2297.2 L338.0,2296.8 L341.0,2296.4 L344.0,2295.9 L346.9,2295.5 L349.9,2295.0 L352.9,2294.5 L355.9,2294.1 L358.8,2293.6 L361.8,2293.1 L364.8,2292.6 L367.7,2292.1 L370.7,2291.6 L373.6,2291.0 L376.6,2290.5 L379.5,2290.0 L382.5,2289.5 L385.4,2288.9 L388.4,2288.4 L391.3,2287.8 L394.3,2287.3 L397.2,2286.7 L400.2,2286.2 L403.1,2285.6 L406.1,2285.1 L409.0,2284.5 L412.0,2283.9 L414.9,2283.4 L417.9,2282.8 L420.8,2282.3 L423.8,2281.7 L426.7,2281.2 L429.7,2280.6 L432.6,2280.1 L435.6,2279.5 L438.5,2279.0 L441.5,2278.4 L444.4,2277.9 L447.4,2277.4 L450.3,2276.8 L453.3,2276.3 L456.3,2275.8 L459.2,2275.3 L462.2,2274.8 L465.2,2274.3 L468.1,2273.8 L471.1,2273.4 L474.1,2272.9 L477.1,2272.4 L480.1,2272.0 L483.1,2271.5 L486.0,2271.1 L489.0,2270.7 L492.0,2270.2 L495.0,2269.8 L498.0,2269.4 L501.0,2269.0 L504.0,2268.6 L507.0,2268.2 L510.0,2267.8 L513.0,2267.3 L516.0,2266.9 L519.0,2266.5 L522.0,2266.1 L525.0,2265.8 L528.0,2265.4 L531.0,2265.0 L534.0,2264.6 L537.0,2264.2 L540.0,2263.8 L543.0,2263.4 L546.0,2263.0 L549.1,2262.6 L552.1,2262.2 L555.1,2261.7 L558.1,2261.3 L561.1,2260.9 L564.1,2260.5 L567.0,2260.1 L570.0,2259.6 L573.0,2259.2 L576.0,2258.8 L579.0,2258.3 L582.0,2257.9 L585.0,2257.4 L588.0,2257.0 L591.0,2256.5 L593.9,2256.0 L596.9,2255.5 L599.9,2255.0 L602.8,2254.5 L605.8,2254.0 L608.8,2253.5 L611.7,2252.9 L614.7,2252.4 L617.6,2251.8 L620.6,2251.3 L623.5,2250.7 L626.5,2250.1 L629.4,2249.5 L632.4,2248.9 L635.3,2248.2 L638.2,2247.6 L641.1,2246.9 L644.0,2246.3 L646.9,2245.6 L649.9,2244.9 L652.8,2244.2 L655.7,2243.4 L658.5,2242.7 L661.4,2241.9 L664.3,2241.2 L667.2,2240.4 L670.1,2239.6" fill="none" stroke="#000" stroke-width="12.5" stroke-linejoin="round" stroke-linecap="round"/><path d="M670.1,2239.6 L672.9,2238.8 L675.8,2237.9 L678.7,2237.1 L681.5,2236.3 L684.4,2235.4 L687.2,2234.5 L690.1,2233.6 L692.9,2232.7 L695.8,2231.8 L698.6,2230.9 L701.4,2230.0 L704.3,2229.0 L707.1,2228.1 L709.9,2227.1 L712.7,2226.1 L715.6,2225.1 L718.4,2224.1 L721.2,2223.1 L724.0,2222.1 L726.8,2221.0 L729.6,2220.0 L732.4,2218.9 L735.2,2217.8 L738.0,2216.7 L740.8,2215.6 L743.5,2214.5 L746.3,2213.4 L749.1,2212.3 L751.9,2211.1 L754.7,2210.0 L757.4,2208.8 L760.2,2207.7 L763.0,2206.5 L765.7,2205.3 L768.5,2204.1 L771.3,2202.9 L774.0,2201.6 L776.8,2200.4 L779.5,2199.2 L782.3,2197.9 L785.0,2196.7 L787.8,2195.4 L790.5,2194.1 L793.3,2192.8 L796.0,2191.5 L798.8,2190.2 L801.5,2188.9 L804.2,2187.6 L807.0,2186.3 L809.7,2184.9 L812.4,2183.6 L815.2,2182.2 L817.9,2180.8 L820.6,2179.5 L823.4,2178.1 L826.1,2176.7 L828.8,2175.3 L831.5,2173.9 L834.3,2172.5 L837.0,2171.1 L839.7,2169.7 L842.5,2168.3 L845.2,2166.9 L847.9,2165.5 L850.7,2164.1 L853.4,2162.7 L856.1,2161.4 L858.9,2160.0 L861.6,2158.7 L864.4,2157.4 L867.1,2156.1 L869.9,2154.8 L872.6,2153.5 L875.4,2152.3 L878.2,2151.0 L881.0,2149.8 L883.8,2148.7 L886.6,2147.5 L889.4,2146.4 L892.2,2145.3 L895.0,2144.3 L897.8,2143.3 L900.6,2142.3 L903.5,2141.4 L906.3,2140.5 L909.2,2139.6 L912.0,2138.8" fill="none" stroke="#000" stroke-width="12.0" stroke-linejoin="round" stroke-linecap="round"/><path d="M912.0,2138.8 L914.9,2138.1 L917.8,2137.3 L920.7,2136.6 L923.6,2136.0 L926.5,2135.4 L929.4,2134.9 L932.3,2134.3 L935.3,2133.9 L938.2,2133.5 L941.1,2133.1 L944.1,2132.7 L947.0,2132.4 L949.9,2132.2 L952.9,2132.0 L955.8,2131.8 L958.8,2131.7 L961.7,2131.7 L964.6,2131.7 L967.6,2131.7 L970.5,2131.8 L973.5,2131.9 L976.4,2132.0 L979.3,2132.2 L982.2,2132.5 L985.2,2132.8 L988.1,2133.2 L991.0,2133.6 L993.9,2134.0 L996.8,2134.5 L999.7,2135.0 L1002.6,2135.6 L1005.5,2136.3 L1008.4,2137.0 L1011.2,2137.7 L1014.1,2138.5" fill="none" stroke="#000" stroke-width="12.5" stroke-linejoin="round" stroke-linecap="round"/><path d="M1014.1,2138.5 L1016.9,2139.3 L1019.7,2140.2 L1022.6,2141.1 L1025.4,2142.1 L1028.2,2143.1 L1031.0,2144.2 L1033.8,2145.3 L1036.5,2146.5 L1039.3,2147.7 L1042.0,2148.9 L1044.8,2150.2 L1047.5,2151.4 L1050.3,2152.8 L1053.0,2154.1 L1055.7,2155.5 L1058.4,2156.8 L1061.1,2158.2 L1063.9,2159.6 L1066.6,2161.1" fill="none" stroke="#000" stroke-width="12.0" stroke-linejoin="round" stroke-linecap="round"/><path d="M1066.6,2161.1 L1069.3,2162.5 L1072.0,2163.9 L1074.7,2165.4 L1077.4,2166.8 L1080.1,2168.3 L1082.8,2169.7 L1085.5,2171.1 L1088.2,2172.6 L1090.9,2174.0" fill="none" stroke="#000" stroke-width="11.5" stroke-linejoin="round" stroke-linecap="round"/><path d="M1090.9,2174.0 L1093.6,2175.4 L1096.4,2176.8 L1099.1,2178.1 L1101.8,2179.5 L1104.5,2180.8 L1107.3,2182.1 L1110.0,2183.4 L1112.8,2184.6 L1115.5,2185.9 L1118.3,2187.0 L1121.1,2188.2 L1123.8,2189.3 L1126.6,2190.5 L1129.4,2191.5 L1132.2,2192.6 L1135.0,2193.6 L1137.8,2194.6 L1140.6,2195.6 L1143.4,2196.5 L1146.3,2197.5 L1149.1,2198.4 L1151.9,2199.2 L1154.8,2200.1 L1157.6,2200.9 L1160.5,2201.6" fill="none" stroke="#000" stroke-width="12.0" stroke-linejoin="round" stroke-linecap="round"/><path d="M1160.5,2201.6 L1163.4,2202.4 L1166.2,2203.1 L1169.1,2203.8 L1172.0,2204.5 L1174.9,2205.1 L1177.8,2205.8 L1180.7,2206.4 L1183.6,2206.9 L1186.5,2207.5 L1189.4,2208.0 L1192.3,2208.4 L1195.3,2208.9 L1198.2,2209.3 L1201.1,2209.7 L1204.1,2210.1 L1207.0,2210.4 L1210.0,2210.8 L1212.9,2211.0 L1215.9,2211.3 L1218.9,2211.5 L1221.9,2211.7 L1224.9,2211.9 L1227.9,2212.1 L1230.9,2212.2 L1233.9,2212.3 L1236.9,2212.4 L1239.9,2212.4 L1242.9,2212.4 L1245.9,2212.4 L1249.0,2212.4 L1252.0,2212.3 L1255.0,2212.2 L1258.1,2212.1 L1261.1,2212.0 L1264.2,2211.9 L1267.2,2211.7 L1270.3,2211.5 L1273.3,2211.3 L1276.4,2211.1 L1279.4,2210.8 L1282.5,2210.6 L1285.5,2210.3 L1288.6,2210.0 L1291.7,2209.7 L1294.7,2209.4 L1297.7,2209.1 L1300.8,2208.8 L1303.8,2208.4 L1306.9,2208.1 L1309.9,2207.7 L1312.9,2207.4 L1316.0,2207.0 L1319.0,2206.6 L1322.0,2206.3 L1325.0,2205.9 L1328.0,2205.5 L1331.0,2205.1 L1334.0,2204.7 L1337.0,2204.3 L1339.9,2204.0 L1342.9,2203.6 L1345.9,2203.2 L1348.8,2202.8 L1351.7,2202.5 L1354.7,2202.1 L1357.6,2201.7 L1360.5,2201.4" fill="none" stroke="#000" stroke-width="12.5" stroke-linejoin="round" stroke-linecap="round"/>
<path d="M309.2,3452.2 L312.5,3451.9 L315.8,3451.4 L319.0,3450.9 L322.2,3450.2 L325.3,3449.4 L328.2,3448.5" fill="none" stroke="#000" stroke-width="13.0" stroke-linejoin="round" stroke-linecap="round"/><path d="M328.2,3448.5 L331.2,3447.5 L334.0,3446.5 L336.8,3445.3 L339.5,3444.0 L342.1,3442.7" fill="none" stroke="#000" stroke-width="12.5" stroke-linejoin="round" stroke-linecap="round"/><path d="M342.1,3442.7 L344.7,3441.3 L347.2,3439.7 L349.7,3438.2 L352.1,3436.5 L354.4,3434.7" fill="none" stroke="#000" stroke-width="12.0" stroke-linejoin="round" stroke-linecap="round"/><path d="M354.4,3434.7 L356.7,3432.9 L358.9,3431.1 L361.1,3429.1 L363.3,3427.1 L365.3,3425.0" fill="none" stroke="#000" stroke-width="11.5" stroke-linejoin="round" stroke-linecap="round"/><path d="M365.3,3425.0 L367.4,3422.9 L369.3,3420.7 L371.3,3418.5 L373.2,3416.2 L375.0,3413.9 L376.9,3411.6 L378.6,3409.2" fill="none" stroke="#000" stroke-width="11.0" stroke-linejoin="round" stroke-linecap="round"/><path d="M378.6,3409.2 L380.4,3406.7 L382.1,3404.3 L383.8,3401.8 L385.4,3399.2 L387.0,3396.7 L388.6,3394.1 L390.2,3391.5 L391.7,3388.9 L393.2,3386.3 L394.7,3383.6 L396.2,3381.0 L397.6,3378.3 L399.1,3375.6 L400.5,3372.9" fill="none" stroke="#000" stroke-width="10.5" stroke-linejoin="round" stroke-linecap="round"/><path d="M400.5,3372.9 L401.9,3370.2 L403.2,3367.5 L404.6,3364.8 L405.9,3362.1 L407.3,3359.3 L408.6,3356.6 L409.9,3353.8 L411.1,3351.1 L412.4,3348.3 L413.6,3345.6 L414.9,3342.8 L416.1,3340.0 L417.3,3337.3 L418.5,3334.5 L419.7,3331.7 L420.9,3328.9 L422.1,3326.2 L423.3,3323.4 L424.4,3320.6 L425.6,3317.8 L426.7,3315.1 L427.9,3312.3 L429.0,3309.6 L430.1,3306.8 L431.3,3304.1 L432.4,3301.3 L433.5,3298.6 L434.6,3295.9 L435.8,3293.1 L436.9,3290.4 L438.0,3287.7 L439.1,3285.0 L440.3,3282.3 L441.4,3279.7 L442.6,3277.0 L443.7,3274.3 L444.9,3271.6 L446.0,3268.9 L447.2,3266.2 L448.4,3263.5 L449.6,3260.7 L450.9,3258.0 L452.1,3255.2 L453.4,3252.5 L454.7,3249.7 L456.0,3246.9 L457.4,3244.0 L458.7,3241.2 L460.1,3238.3 L461.6,3235.4 L463.0,3232.5 L464.5,3229.6" fill="none" stroke="#000" stroke-width="10.0" stroke-linejoin="round" stroke-linecap="round"/><path d="M464.5,3229.6 L466.1,3226.7 L467.6,3223.8 L469.2,3221.0 L470.9,3218.3 L472.6,3215.6 L474.4,3213.0 L476.2,3210.5" fill="none" stroke="#000" stroke-width="10.5" stroke-linejoin="round" stroke-linecap="round"/><path d="M476.2,3210.5 L478.1,3208.2 L480.0,3205.9 L482.0,3203.8 L484.1,3201.8" fill="none" stroke="#000" stroke-width="11.0" stroke-linejoin="round" stroke-linecap="round"/><path d="M484.1,3201.8 L486.2,3200.0 L488.4,3198.4" fill="none" stroke="#000" stroke-width="11.5" stroke-linejoin="round" stroke-linecap="round"/><path d="M488.4,3198.4 L490.6,3197.0 L493.0,3195.7" fill="none" stroke="#000" stroke-width="12.0" stroke-linejoin="round" stroke-linecap="round"/><path d="M493.0,3195.7 L495.4,3194.7 L497.9,3193.9" fill="none" stroke="#000" stroke-width="12.5" stroke-linejoin="round" stroke-linecap="round"/><path d="M497.9,3193.9 L500.4,3193.4 L503.1,3193.0 L505.7,3192.9 L508.4,3193.0 L511.1,3193.3 L513.8,3193.8 L516.5,3194.6" fill="none" stroke="#000" stroke-width="13.0" stroke-linejoin="round" stroke-linecap="round"/><path d="M516.5,3194.6 L519.2,3195.5 L521.8,3196.6 L524.5,3197.9 L527.1,3199.3" fill="none" stroke="#000" stroke-width="12.5" stroke-linejoin="round" stroke-linecap="round"/><path d="M527.1,3199.3 L529.7,3200.9 L532.3,3202.6 L534.9,3204.4 L537.4,3206.3" fill="none" stroke="#000" stroke-width="12.0" stroke-linejoin="round" stroke-linecap="round"/><path d="M537.4,3206.3 L539.9,3208.2 L542.4,3210.2 L544.9,3212.3 L547.4,3214.4 L549.9,3216.6 L552.3,3218.7 L554.8,3220.9 L557.2,3223.1 L559.7,3225.2 L562.1,3227.3 L564.6,3229.4 L567.0,3231.4 L569.5,3233.4 L572.0,3235.3" fill="none" stroke="#000" stroke-width="11.5" stroke-linejoin="round" stroke-linecap="round"/><path d="M572.0,3235.3 L574.5,3237.1 L577.0,3238.8 L579.6,3240.4 L582.2,3241.9 L584.7,3243.3" fill="none" stroke="#000" stroke-width="12.0" stroke-linejoin="round" stroke-linecap="round"/><path d="M584.7,3243.3 L587.4,3244.5 L590.0,3245.6 L592.7,3246.5 L595.4,3247.3 L598.1,3248.0" fill="none" stroke="#000" stroke-width="12.5" stroke-linejoin="round" stroke-linecap="round"/><path d="M598.1,3248.0 L600.9,3248.6 L603.6,3249.1 L606.4,3249.4 L609.2,3249.7 L612.0,3249.8 L614.8,3249.8 L617.7,3249.8 L620.5,3249.6 L623.4,3249.3 L626.2,3249.0 L629.1,3248.5 L632.0,3248.0 L634.8,3247.4 L637.7,3246.7 L640.6,3246.0 L643.5,3245.1" fill="none" stroke="#000" stroke-width="13.0" stroke-linejoin="round" stroke-linecap="round"/><path d="M643.5,3245.1 L646.4,3244.2 L649.2,3243.3 L652.1,3242.2 L655.0,3241.2 L657.8,3240.0 L660.7,3238.8 L663.5,3237.6 L666.3,3236.3 L669.1,3235.0 L671.9,3233.7 L674.7,3232.3 L677.5,3230.9 L680.2,3229.4" fill="none" stroke="#000" stroke-width="12.5" stroke-linejoin="round" stroke-linecap="round"/><path d="M680.2,3229.4 L683.0,3227.9 L685.7,3226.5 L688.3,3224.9 L691.0,3223.4 L693.6,3221.9 L696.3,3220.3 L698.8,3218.7 L701.4,3217.1 L704.0,3215.4 L706.5,3213.8 L709.0,3212.1 L711.5,3210.4 L714.0,3208.7 L716.5,3207.0 L718.9,3205.2 L721.3,3203.4 L723.7,3201.7" fill="none" stroke="#000" stroke-width="12.0" stroke-linejoin="round" stroke-linecap="round"/><path d="M723.7,3201.7 L726.1,3199.8 L728.5,3198.0 L730.8,3196.2 L733.2,3194.3 L735.5,3192.4 L737.8,3190.5 L740.1,3188.6 L742.3,3186.7 L744.6,3184.7 L746.8,3182.8 L749.0,3180.8 L751.2,3178.8 L753.4,3176.8 L755.6,3174.8 L757.7,3172.7 L759.9,3170.6 L762.0,3168.6 L764.1,3166.5 L766.2,3164.4" fill="none" stroke="#000" stroke-width="11.5" stroke-linejoin="round" stroke-linecap="round"/><path d="M766.2,3164.4 L768.3,3162.2 L770.4,3160.1 L772.4,3157.9 L774.5,3155.8 L776.5,3153.6 L778.5,3151.4 L780.5,3149.2 L782.5,3147.0 L784.5,3144.7 L786.5,3142.5 L788.4,3140.2 L790.4,3137.9 L792.3,3135.6 L794.2,3133.4 L796.1,3131.0 L798.0,3128.7 L799.9,3126.4 L801.8,3124.1 L803.7,3121.7 L805.6,3119.4 L807.4,3117.0 L809.3,3114.6 L811.1,3112.3 L813.0,3109.9 L814.8,3107.5 L816.6,3105.1 L818.5,3102.7 L820.3,3100.3 L822.1,3097.9 L823.9,3095.4" fill="none" stroke="#000" stroke-width="11.0" stroke-linejoin="round" stroke-linecap="round"/><path d="M823.9,3095.4 L825.7,3093.0 L827.5,3090.6 L829.2,3088.2 L831.0,3085.7 L832.8,3083.3 L834.6,3080.8 L836.3,3078.4 L838.1,3076.0 L839.9,3073.5 L841.6,3071.1 L843.4,3068.6 L845.1,3066.2 L846.9,3063.7 L848.6,3061.3 L850.4,3058.8 L852.1,3056.4 L853.9,3053.9 L855.6,3051.5 L857.4,3049.0 L859.1,3046.6 L860.8,3044.1 L862.6,3041.7 L864.3,3039.2 L866.0,3036.7 L867.7,3034.3 L869.5,3031.8 L871.2,3029.4 L872.9,3026.9 L874.6,3024.4 L876.3,3022.0 L878.0,3019.5 L879.7,3017.0 L881.4,3014.5 L883.1,3012.1 L884.8,3009.6 L886.5,3007.1 L888.2,3004.6 L889.9,3002.2 L891.6,2999.7 L893.3,2997.2 L894.9,2994.7 L896.6,2992.2 L898.3,2989.7 L900.0,2987.2 L901.6,2984.8 L903.3,2982.3 L905.0,2979.8 L906.6,2977.3 L908.3,2974.8 L909.9,2972.3 L911.6,2969.8 L913.2,2967.2 L914.9,2964.7 L916.5,2962.2 L918.2,2959.7 L919.8,2957.2 L921.5,2954.7 L923.1,2952.2 L924.7,2949.6 L926.4,2947.1 L928.0,2944.6 L929.6,2942.1 L931.2,2939.5 L932.8,2937.0 L934.5,2934.5 L936.1,2931.9 L937.7,2929.4 L939.3,2926.9 L940.9,2924.3 L942.5,2921.8 L944.1,2919.2 L945.7,2916.7 L947.3,2914.1 L948.9,2911.6 L950.5,2909.0 L952.1,2906.5 L953.7,2903.9 L955.3,2901.4 L956.9,2898.8 L958.5,2896.3 L960.0,2893.7 L961.6,2891.2 L963.2,2888.6 L964.8,2886.1 L966.4,2883.5 L967.9,2880.9 L969.5,2878.4 L971.1,2875.8 L972.7,2873.2 L974.2,2870.7 L975.8,2868.1 L977.4,2865.5 L978.9,2863.0 L980.5,2860.4 L982.1,2857.8 L983.6,2855.3 L985.2,2852.7 L986.7,2850.1 L988.3,2847.5 L989.8,2845.0 L991.4,2842.4 L993.0,2839.8 L994.5,2837.3 L996.1,2834.7 L997.6,2832.1 L999.2,2829.5 L1000.7,2827.0 L1002.3,2824.4 L1003.8,2821.8 L1005.4,2819.2 L1006.9,2816.6 L1008.4,2814.1 L1010.0,2811.5 L1011.5,2808.9 L1013.1,2806.3 L1014.6,2803.8 L1016.2,2801.2 L1017.7,2798.6 L1019.2,2796.0 L1020.8,2793.5 L1022.3,2790.9 L1023.9,2788.3 L1025.4,2785.7 L1026.9,2783.1 L1028.5,2780.6 L1030.0,2778.0 L1031.5,2775.4 L1033.1,2772.8 L1034.6,2770.3 L1036.2,2767.7 L1037.7,2765.1 L1039.3,2762.6 L1040.8,2760.0 L1042.4,2757.4 L1043.9,2754.9 L1045.5,2752.3 L1047.1,2749.8 L1048.6,2747.2 L1050.2,2744.7 L1051.8,2742.1 L1053.4,2739.6 L1055.0,2737.1 L1056.6,2734.6 L1058.3,2732.0 L1059.9,2729.5 L1061.5,2727.0 L1063.2,2724.5 L1064.9,2722.0 L1066.5,2719.5 L1068.2,2717.1 L1069.9,2714.6 L1071.7,2712.1 L1073.4,2709.7 L1075.1,2707.2 L1076.9,2704.8 L1078.7,2702.3 L1080.5,2699.9 L1082.3,2697.5" fill="none" stroke="#000" stroke-width="10.5" stroke-linejoin="round" stroke-linecap="round"/><path d="M1082.3,2697.5 L1084.1,2695.1 L1085.9,2692.7 L1087.8,2690.3 L1089.7,2687.9 L1091.6,2685.6 L1093.5,2683.2 L1095.4,2680.9 L1097.4,2678.6 L1099.4,2676.3 L1101.4,2674.1 L1103.5,2671.9 L1105.7,2669.8" fill="none" stroke="#000" stroke-width="11.0" stroke-linejoin="round" stroke-linecap="round"/><path d="M1105.7,2669.8 L1107.8,2667.7 L1110.1,2665.7 L1112.4,2663.8 L1114.8,2662.0" fill="none" stroke="#000" stroke-width="11.5" stroke-linejoin="round" stroke-linecap="round"/><path d="M1114.8,2662.0 L1117.2,2660.3 L1119.7,2658.6 L1122.3,2657.1 L1125.0,2655.7" fill="none" stroke="#000" stroke-width="12.0" stroke-linejoin="round" stroke-linecap="round"/><path d="M1125.0,2655.7 L1127.8,2654.5 L1130.7,2653.4 L1133.7,2652.4 L1136.7,2651.5" fill="none" stroke="#000" stroke-width="12.5" stroke-linejoin="round" stroke-linecap="round"/><path d="M1136.7,2651.5 L1139.8,2650.8 L1142.9,2650.3 L1146.1,2649.9 L1149.2,2649.7 L1152.3,2649.6 L1155.4,2649.7 L1158.4,2649.9 L1161.3,2650.3 L1164.2,2650.8 L1166.9,2651.5 L1169.6,2652.3" fill="none" stroke="#000" stroke-width="13.0" stroke-linejoin="round" stroke-linecap="round"/><path d="M1169.6,2652.3 L1172.3,2653.2 L1174.8,2654.3 L1177.3,2655.5 L1179.8,2656.9" fill="none" stroke="#000" stroke-width="12.5" stroke-linejoin="round" stroke-linecap="round"/><path d="M1179.8,2656.9 L1182.2,2658.3 L1184.5,2659.9 L1186.8,2661.5" fill="none" stroke="#000" stroke-width="12.0" stroke-linejoin="round" stroke-linecap="round"/><path d="M1186.8,2661.5 L1189.0,2663.3 L1191.1,2665.2 L1193.2,2667.1 L1195.3,2669.2" fill="none" stroke="#000" stroke-width="11.5" stroke-linejoin="round" stroke-linecap="round"/><path d="M1195.3,2669.2 L1197.3,2671.3 L1199.2,2673.5 L1201.1,2675.7 L1203.0,2678.1 L1204.8,2680.5" fill="none" stroke="#000" stroke-width="11.0" stroke-linejoin="round" stroke-linecap="round"/><path d="M1204.8,2680.5 L1206.6,2682.9 L1208.4,2685.4 L1210.1,2688.0 L1211.7,2690.6 L1213.4,2693.2 L1215.0,2695.9 L1216.5,2698.6 L1218.1,2701.3 L1219.6,2704.1 L1221.1,2706.8 L1222.6,2709.6 L1224.0,2712.3" fill="none" stroke="#000" stroke-width="10.5" stroke-linejoin="round" stroke-linecap="round"/><path d="M1224.0,2712.3 L1225.4,2715.1 L1226.8,2717.9 L1228.2,2720.6 L1229.6,2723.4 L1230.9,2726.2 L1232.2,2728.9 L1233.5,2731.7 L1234.8,2734.5 L1236.1,2737.2 L1237.4,2740.0 L1238.6,2742.8 L1239.8,2745.5 L1241.0,2748.3 L1242.2,2751.1 L1243.4,2753.9 L1244.6,2756.6 L1245.7,2759.4 L1246.9,2762.2 L1248.0,2765.0 L1249.1,2767.7 L1250.2,2770.5 L1251.3,2773.3 L1252.4,2776.1 L1253.5,2778.9 L1254.6,2781.6 L1255.6,2784.4 L1256.7,2787.2 L1257.7,2790.0 L1258.7,2792.8 L1259.8,2795.6 L1260.8,2798.4 L1261.8,2801.2 L1262.8,2804.0 L1263.8,2806.8 L1264.8,2809.6 L1265.8,2812.4 L1266.8,2815.2 L1267.8,2818.0 L1268.8,2820.8 L1269.8,2823.6 L1270.8,2826.4 L1271.8,2829.2 L1272.8,2832.0 L1273.8,2834.8 L1274.8,2837.6 L1275.7,2840.5 L1276.7,2843.3 L1277.7,2846.1 L1278.7,2848.9 L1279.7,2851.7 L1280.7,2854.6 L1281.7,2857.4 L1282.7,2860.2 L1283.7,2863.1 L1284.8,2865.9 L1285.8,2868.7 L1286.8,2871.6 L1287.8,2874.4 L1288.8,2877.2 L1289.9,2880.1 L1290.9,2882.9 L1291.9,2885.7 L1293.0,2888.6 L1294.0,2891.4 L1295.1,2894.2 L1296.1,2897.0 L1297.2,2899.9 L1298.3,2902.7 L1299.3,2905.5 L1300.4,2908.3 L1301.5,2911.2 L1302.6,2914.0 L1303.7,2916.8 L1304.8,2919.6 L1305.9,2922.4 L1307.0,2925.2 L1308.1,2928.0 L1309.3,2930.8 L1310.4,2933.6 L1311.6,2936.4 L1312.7,2939.2 L1313.9,2942.0 L1315.0,2944.8 L1316.2,2947.6 L1317.4,2950.4 L1318.6,2953.2 L1319.8,2955.9 L1321.0,2958.7 L1322.2,2961.4 L1323.4,2964.2 L1324.6,2967.0 L1325.9,2969.7 L1327.1,2972.4 L1328.4,2975.2 L1329.6,2977.9 L1330.9,2980.6 L1332.2,2983.3 L1333.5,2986.1 L1334.8,2988.8 L1336.1,2991.5 L1337.5,2994.1 L1338.8,2996.8 L1340.2,2999.5 L1341.5,3002.2 L1342.9,3004.8 L1344.3,3007.5" fill="none" stroke="#000" stroke-width="10.0" stroke-linejoin="round" stroke-linecap="round"/><path d="M1344.3,3007.5 L1345.7,3010.1 L1347.1,3012.8 L1348.5,3015.4 L1349.9,3018.0 L1351.4,3020.6 L1352.8,3023.3 L1354.3,3025.9 L1355.8,3028.4 L1357.3,3031.0 L1358.8,3033.6 L1360.3,3036.2 L1361.8,3038.7 L1363.4,3041.2" fill="none" stroke="#000" stroke-width="10.5" stroke-linejoin="round" stroke-linecap="round"/>
<path d="M315.0,3544.8 L318.0,3544.6 L320.9,3544.3 L323.9,3543.9 L326.9,3543.4 L329.8,3542.9 L332.7,3542.2 L335.6,3541.5 L338.5,3540.7" fill="none" stroke="#000" stroke-width="13.0" stroke-linejoin="round" stroke-linecap="round"/><path d="M338.5,3540.7 L341.4,3539.8 L344.2,3538.8 L347.0,3537.8 L349.8,3536.7 L352.5,3535.5 L355.3,3534.3 L358.0,3533.0 L360.7,3531.6" fill="none" stroke="#000" stroke-width="12.5" stroke-linejoin="round" stroke-linecap="round"/><path d="M360.7,3531.6 L363.3,3530.2 L365.9,3528.7 L368.5,3527.2 L371.1,3525.5 L373.6,3523.9 L376.1,3522.2 L378.6,3520.4 L381.0,3518.6" fill="none" stroke="#000" stroke-width="12.0" stroke-linejoin="round" stroke-linecap="round"/><path d="M381.0,3518.6 L383.4,3516.7 L385.8,3514.8 L388.1,3512.8 L390.4,3510.8 L392.6,3508.8 L394.9,3506.7 L397.0,3504.6 L399.2,3502.4" fill="none" stroke="#000" stroke-width="11.5" stroke-linejoin="round" stroke-linecap="round"/><path d="M399.2,3502.4 L401.2,3500.2 L403.3,3498.0 L405.3,3495.7 L407.3,3493.4 L409.2,3491.1 L411.0,3488.8 L412.9,3486.4 L414.6,3484.1" fill="none" stroke="#000" stroke-width="11.0" stroke-linejoin="round" stroke-linecap="round"/><path d="M414.6,3484.1 L416.4,3481.6 L418.1,3479.2 L419.7,3476.8 L421.3,3474.3 L422.9,3471.8 L424.5,3469.3 L426.0,3466.8 L427.5,3464.2 L428.9,3461.7 L430.4,3459.1 L431.8,3456.5 L433.1,3453.9 L434.5,3451.2" fill="none" stroke="#000" stroke-width="10.5" stroke-linejoin="round" stroke-linecap="round"/><path d="M434.5,3451.2 L435.8,3448.6 L437.2,3445.9 L438.5,3443.3 L439.8,3440.6 L441.0,3437.9 L442.3,3435.2 L443.6,3432.5 L444.8,3429.8 L446.1,3427.0 L447.3,3424.3 L448.5,3421.5 L449.8,3418.8 L451.0,3416.0 L452.3,3413.3 L453.5,3410.5 L454.8,3407.7 L456.0,3404.9 L457.3,3402.1 L458.6,3399.3 L459.9,3396.6 L461.2,3393.8 L462.5,3391.0 L463.8,3388.2 L465.2,3385.5 L466.5,3382.7 L467.9,3380.0 L469.3,3377.3" fill="none" stroke="#000" stroke-width="10.0" stroke-linejoin="round" stroke-linecap="round"/><path d="M469.3,3377.3 L470.8,3374.6 L472.2,3371.9 L473.7,3369.2 L475.2,3366.6 L476.7,3363.9 L478.3,3361.3 L479.9,3358.8 L481.5,3356.2 L483.1,3353.7 L484.8,3351.2 L486.5,3348.8 L488.3,3346.3 L490.1,3344.0" fill="none" stroke="#000" stroke-width="10.5" stroke-linejoin="round" stroke-linecap="round"/><path d="M490.1,3344.0 L491.9,3341.6 L493.8,3339.3 L495.7,3337.1 L497.6,3334.9 L499.6,3332.7 L501.6,3330.6 L503.7,3328.6" fill="none" stroke="#000" stroke-width="11.0" stroke-linejoin="round" stroke-linecap="round"/><path d="M503.7,3328.6 L505.8,3326.5 L508.0,3324.6 L510.2,3322.7 L512.5,3320.9 L514.8,3319.1 L517.1,3317.4" fill="none" stroke="#000" stroke-width="11.5" stroke-linejoin="round" stroke-linecap="round"/><path d="M517.1,3317.4 L519.6,3315.7 L522.0,3314.2 L524.6,3312.7 L527.1,3311.4" fill="none" stroke="#000" stroke-width="12.0" stroke-linejoin="round" stroke-linecap="round"/><path d="M527.1,3311.4 L529.8,3310.1 L532.4,3309.1 L535.2,3308.1 L538.0,3307.4" fill="none" stroke="#000" stroke-width="12.5" stroke-linejoin="round" stroke-linecap="round"/><path d="M538.0,3307.4 L540.8,3306.8 L543.7,3306.4 L546.6,3306.3 L549.6,3306.4 L552.6,3306.7 L555.7,3307.2 L558.8,3307.9 L561.9,3308.7 L565.0,3309.6" fill="none" stroke="#000" stroke-width="13.0" stroke-linejoin="round" stroke-linecap="round"/><path d="M565.0,3309.6 L568.2,3310.5 L571.3,3311.4" fill="none" stroke="#000" stroke-width="12.5" stroke-linejoin="round" stroke-linecap="round"/><path d="M571.3,3311.4 L574.4,3312.1 L577.5,3312.7 L580.6,3313.2 L583.6,3313.5 L586.6,3313.7 L589.6,3313.8 L592.6,3313.8 L595.5,3313.7 L598.5,3313.5 L601.4,3313.3 L604.3,3312.9 L607.2,3312.5 L610.1,3312.1 L613.0,3311.6 L615.9,3311.0 L618.8,3310.4 L621.7,3309.8 L624.6,3309.1 L627.4,3308.4 L630.3,3307.6 L633.2,3306.8" fill="none" stroke="#000" stroke-width="13.0" stroke-linejoin="round" stroke-linecap="round"/><path d="M633.2,3306.8 L636.0,3306.0 L638.9,3305.1 L641.8,3304.2 L644.6,3303.3 L647.4,3302.3 L650.2,3301.3 L653.1,3300.2 L655.9,3299.2 L658.7,3298.0 L661.4,3296.9 L664.2,3295.7 L667.0,3294.5 L669.7,3293.2 L672.5,3291.9 L675.2,3290.6 L677.9,3289.2 L680.6,3287.8" fill="none" stroke="#000" stroke-width="12.5" stroke-linejoin="round" stroke-linecap="round"/><path d="M680.6,3287.8 L683.3,3286.4 L685.9,3285.0 L688.6,3283.5 L691.2,3282.0 L693.8,3280.4 L696.4,3278.9 L699.0,3277.3 L701.5,3275.6 L704.1,3274.0 L706.6,3272.3 L709.1,3270.6 L711.5,3268.9 L714.0,3267.1 L716.4,3265.3" fill="none" stroke="#000" stroke-width="12.0" stroke-linejoin="round" stroke-linecap="round"/><path d="M716.4,3265.3 L718.8,3263.5 L721.2,3261.6 L723.6,3259.8 L725.9,3257.9 L728.2,3256.0 L730.5,3254.0 L732.8,3252.1 L735.0,3250.1 L737.2,3248.1 L739.4,3246.0 L741.6,3244.0 L743.7,3241.9 L745.8,3239.8 L748.0,3237.7" fill="none" stroke="#000" stroke-width="11.5" stroke-linejoin="round" stroke-linecap="round"/><path d="M748.0,3237.7 L750.0,3235.6 L752.1,3233.5 L754.2,3231.3 L756.2,3229.1 L758.2,3226.9 L760.2,3224.7 L762.2,3222.5 L764.2,3220.2 L766.1,3218.0 L768.0,3215.7 L770.0,3213.4 L771.9,3211.1 L773.8,3208.8 L775.6,3206.5 L777.5,3204.2 L779.4,3201.8 L781.2,3199.5 L783.0,3197.1 L784.9,3194.7 L786.7,3192.3 L788.5,3190.0 L790.3,3187.6 L792.1,3185.2" fill="none" stroke="#000" stroke-width="11.0" stroke-linejoin="round" stroke-linecap="round"/><path d="M792.1,3185.2 L793.9,3182.7 L795.6,3180.3 L797.4,3177.9 L799.2,3175.5 L800.9,3173.0 L802.7,3170.6 L804.4,3168.2 L806.2,3165.7 L807.9,3163.3 L809.7,3160.9 L811.4,3158.4 L813.1,3156.0 L814.9,3153.5 L816.6,3151.0 L818.3,3148.6 L820.0,3146.1 L821.7,3143.7 L823.5,3141.2 L825.2,3138.7 L826.9,3136.2 L828.6,3133.8 L830.3,3131.3 L831.9,3128.8 L833.6,3126.3 L835.3,3123.8 L837.0,3121.3 L838.7,3118.9 L840.3,3116.4 L842.0,3113.9 L843.7,3111.4 L845.3,3108.9 L847.0,3106.4 L848.6,3103.8 L850.3,3101.3 L851.9,3098.8 L853.5,3096.3 L855.2,3093.8 L856.8,3091.3 L858.4,3088.7 L860.0,3086.2 L861.6,3083.7 L863.2,3081.1 L864.8,3078.6 L866.4,3076.0 L868.0,3073.5 L869.6,3071.0 L871.2,3068.4 L872.8,3065.9 L874.4,3063.3 L876.0,3060.7 L877.5,3058.2 L879.1,3055.6 L880.6,3053.1 L882.2,3050.5 L883.7,3047.9 L885.3,3045.3 L886.8,3042.8 L888.4,3040.2 L889.9,3037.6 L891.4,3035.0 L892.9,3032.4 L894.5,3029.8 L896.0,3027.2 L897.5,3024.6 L899.0,3022.0 L900.5,3019.4 L902.0,3016.8 L903.4,3014.2 L904.9,3011.6 L906.4,3009.0 L907.9,3006.4 L909.3,3003.7 L910.8,3001.1 L912.2,2998.5 L913.7,2995.9 L915.1,2993.2 L916.6,2990.6 L918.0,2987.9 L919.4,2985.3 L920.9,2982.7 L922.3,2980.0 L923.7,2977.4 L925.1,2974.7 L926.5,2972.0 L927.9,2969.4 L929.3,2966.7" fill="none" stroke="#000" stroke-width="10.5" stroke-linejoin="round" stroke-linecap="round"/><path d="M929.3,2966.7 L930.7,2964.1 L932.1,2961.4 L933.4,2958.7 L934.8,2956.0 L936.2,2953.4 L937.5,2950.7 L938.9,2948.0 L940.2,2945.3 L941.6,2942.6 L942.9,2939.9 L944.3,2937.2 L945.6,2934.6 L946.9,2931.9 L948.3,2929.2 L949.6,2926.5 L950.9,2923.8 L952.2,2921.1 L953.5,2918.4 L954.9,2915.7 L956.2,2913.0 L957.5,2910.3 L958.8,2907.6 L960.1,2904.9 L961.5,2902.1 L962.8,2899.4 L964.1,2896.7 L965.4,2894.0 L966.8,2891.3 L968.1,2888.7 L969.4,2886.0 L970.7,2883.3 L972.1,2880.6 L973.4,2877.9 L974.8,2875.2 L976.1,2872.5 L977.5,2869.8 L978.8,2867.1 L980.2,2864.5 L981.6,2861.8 L982.9,2859.1 L984.3,2856.4 L985.7,2853.8" fill="none" stroke="#000" stroke-width="10.0" stroke-linejoin="round" stroke-linecap="round"/><path d="M985.7,2853.8 L987.1,2851.1 L988.5,2848.5 L989.9,2845.8 L991.3,2843.2 L992.7,2840.5 L994.2,2837.9 L995.6,2835.2 L997.1,2832.6 L998.5,2830.0 L1000.0,2827.4 L1001.5,2824.8 L1003.0,2822.2 L1004.5,2819.5 L1006.0,2816.9 L1007.5,2814.3 L1009.0,2811.8 L1010.5,2809.2 L1012.1,2806.6 L1013.6,2804.0 L1015.1,2801.4 L1016.7,2798.8 L1018.2,2796.3 L1019.8,2793.7 L1021.4,2791.1 L1022.9,2788.6 L1024.5,2786.0 L1026.1,2783.4 L1027.7,2780.9 L1029.2,2778.3 L1030.8,2775.8 L1032.4,2773.2 L1034.0,2770.6 L1035.6,2768.1 L1037.2,2765.5 L1038.8,2763.0 L1040.4,2760.4 L1041.9,2757.9 L1043.5,2755.3 L1045.1,2752.7 L1046.7,2750.2 L1048.3,2747.7 L1050.0,2745.1 L1051.6,2742.6 L1053.2,2740.1 L1054.8,2737.6 L1056.5,2735.0 L1058.2,2732.6 L1059.8,2730.1 L1061.5,2727.6 L1063.3,2725.1 L1065.0,2722.7 L1066.7,2720.3 L1068.5,2717.9 L1070.3,2715.5" fill="none" stroke="#000" stroke-width="10.5" stroke-linejoin="round" stroke-linecap="round"/><path d="M1070.3,2715.5 L1072.1,2713.1 L1074.0,2710.7 L1075.8,2708.4 L1077.7,2706.1 L1079.6,2703.8 L1081.6,2701.5 L1083.5,2699.3 L1085.5,2697.1 L1087.6,2694.9 L1089.7,2692.7 L1091.8,2690.6" fill="none" stroke="#000" stroke-width="11.0" stroke-linejoin="round" stroke-linecap="round"/><path d="M1091.8,2690.6 L1093.9,2688.5 L1096.1,2686.4 L1098.3,2684.4 L1100.6,2682.4 L1102.9,2680.4 L1105.2,2678.4 L1107.6,2676.5 L1110.0,2674.7 L1112.5,2672.9" fill="none" stroke="#000" stroke-width="11.5" stroke-linejoin="round" stroke-linecap="round"/><path d="M1112.5,2672.9 L1115.0,2671.2 L1117.6,2669.5 L1120.2,2668.0 L1122.8,2666.5 L1125.5,2665.1" fill="none" stroke="#000" stroke-width="12.0" stroke-linejoin="round" stroke-linecap="round"/><path d="M1125.5,2665.1 L1128.3,2663.9 L1131.1,2662.8 L1133.9,2661.9 L1136.8,2661.1" fill="none" stroke="#000" stroke-width="12.5" stroke-linejoin="round" stroke-linecap="round"/><path d="M1136.8,2661.1 L1139.8,2660.4 L1142.8,2660.0 L1145.8,2659.7 L1148.9,2659.5 L1152.0,2659.6 L1155.1,2659.8 L1158.2,2660.1 L1161.3,2660.6 L1164.3,2661.2 L1167.2,2662.0 L1170.1,2662.9" fill="none" stroke="#000" stroke-width="13.0" stroke-linejoin="round" stroke-linecap="round"/><path d="M1170.1,2662.9 L1172.9,2663.8 L1175.7,2664.9 L1178.3,2666.1 L1180.9,2667.4" fill="none" stroke="#000" stroke-width="12.5" stroke-linejoin="round" stroke-linecap="round"/><path d="M1180.9,2667.4 L1183.5,2668.8 L1185.9,2670.3 L1188.3,2671.9 L1190.7,2673.5 L1192.9,2675.3" fill="none" stroke="#000" stroke-width="12.0" stroke-linejoin="round" stroke-linecap="round"/><path d="M1192.9,2675.3 L1195.1,2677.1 L1197.3,2679.1 L1199.4,2681.1 L1201.5,2683.1" fill="none" stroke="#000" stroke-width="11.5" stroke-linejoin="round" stroke-linecap="round"/><path d="M1201.5,2683.1 L1203.5,2685.3 L1205.4,2687.5 L1207.3,2689.7 L1209.1,2692.0 L1211.0,2694.4" fill="none" stroke="#000" stroke-width="11.0" stroke-linejoin="round" stroke-linecap="round"/><path d="M1211.0,2694.4 L1212.7,2696.8 L1214.4,2699.3 L1216.1,2701.8 L1217.7,2704.4 L1219.4,2707.0 L1220.9,2709.6 L1222.5,2712.3 L1224.0,2715.0 L1225.4,2717.7 L1226.9,2720.4" fill="none" stroke="#000" stroke-width="10.5" stroke-linejoin="round" stroke-linecap="round"/><path d="M1226.9,2720.4 L1228.3,2723.2 L1229.7,2726.0 L1231.1,2728.8 L1232.4,2731.5 L1233.7,2734.3 L1235.1,2737.1 L1236.4,2739.9 L1237.6,2742.7 L1238.9,2745.5 L1240.2,2748.3 L1241.4,2751.1 L1242.6,2753.9 L1243.8,2756.7 L1245.0,2759.5 L1246.2,2762.2 L1247.4,2765.0 L1248.5,2767.8 L1249.7,2770.6 L1250.8,2773.4 L1251.9,2776.2 L1253.1,2778.9 L1254.2,2781.7 L1255.3,2784.5 L1256.3,2787.3 L1257.4,2790.1 L1258.5,2792.9 L1259.6,2795.7 L1260.6,2798.4 L1261.7,2801.2 L1262.7,2804.0 L1263.8,2806.8 L1264.8,2809.6 L1265.8,2812.4 L1266.8,2815.2 L1267.9,2818.0 L1268.9,2820.8 L1269.9,2823.6 L1270.9,2826.4 L1271.9,2829.2 L1272.9,2832.0 L1273.9,2834.8 L1274.9,2837.6 L1275.9,2840.4 L1276.9,2843.2 L1277.9,2846.0 L1278.9,2848.8 L1279.9,2851.7 L1281.0,2854.5 L1282.0,2857.3 L1283.0,2860.1 L1284.0,2863.0 L1285.0,2865.8 L1286.0,2868.6 L1287.0,2871.5 L1288.0,2874.3 L1289.1,2877.1 L1290.1,2879.9 L1291.1,2882.8 L1292.1,2885.6 L1293.2,2888.4 L1294.2,2891.3 L1295.3,2894.1 L1296.3,2896.9 L1297.4,2899.8 L1298.4,2902.6 L1299.5,2905.4 L1300.5,2908.3 L1301.6,2911.1 L1302.7,2913.9 L1303.8,2916.7 L1304.9,2919.5 L1306.0,2922.4 L1307.1,2925.2 L1308.2,2928.0 L1309.3,2930.8 L1310.4,2933.6 L1311.5,2936.4 L1312.7,2939.2 L1313.8,2942.0 L1315.0,2944.8 L1316.1,2947.6 L1317.3,2950.3 L1318.5,2953.1 L1319.6,2955.9 L1320.8,2958.7 L1322.0,2961.4 L1323.3,2964.2 L1324.5,2966.9 L1325.7,2969.7 L1327.0,2972.4 L1328.2,2975.2 L1329.5,2977.9 L1330.7,2980.6 L1332.0,2983.4 L1333.3,2986.1 L1334.6,2988.8 L1336.0,2991.5 L1337.3,2994.2 L1338.6,2996.8 L1340.0,2999.5 L1341.4,3002.2 L1342.7,3004.9" fill="none" stroke="#000" stroke-width="10.0" stroke-linejoin="round" stroke-linecap="round"/><path d="M1342.7,3004.9 L1344.1,3007.5 L1345.5,3010.2 L1347.0,3012.8 L1348.4,3015.4 L1349.8,3018.0 L1351.3,3020.7 L1352.8,3023.3 L1354.3,3025.9 L1355.8,3028.4 L1357.3,3031.0 L1358.8,3033.6 L1360.4,3036.1 L1362.0,3038.7 L1363.5,3041.2" fill="none" stroke="#000" stroke-width="10.5" stroke-linejoin="round" stroke-linecap="round"/>
<path d="M305.0,3563.1 L307.9,3562.3 L310.8,3561.5" fill="none" stroke="#000" stroke-width="12.5" stroke-linejoin="round" stroke-linecap="round"/><path d="M310.8,3561.5 L313.7,3560.7 L316.7,3560.0 L319.6,3559.3 L322.6,3558.7 L325.5,3558.1 L328.5,3557.5 L331.4,3557.0 L334.4,3556.5 L337.4,3556.0 L340.4,3555.5 L343.4,3555.0 L346.3,3554.6 L349.3,3554.1 L352.3,3553.7 L355.3,3553.2 L358.3,3552.8 L361.3,3552.3 L364.2,3551.8 L367.2,3551.3 L370.1,3550.8 L373.1,3550.3 L376.0,3549.7 L379.0,3549.1 L381.9,3548.5 L384.8,3547.8 L387.7,3547.1 L390.6,3546.3 L393.4,3545.5" fill="none" stroke="#000" stroke-width="13.0" stroke-linejoin="round" stroke-linecap="round"/><path d="M393.4,3545.5 L396.3,3544.6 L399.1,3543.7 L401.9,3542.7 L404.8,3541.7 L407.6,3540.7 L410.3,3539.6 L413.1,3538.5 L415.9,3537.4 L418.7,3536.3 L421.5,3535.2 L424.3,3534.1 L427.1,3533.0 L429.8,3531.9 L432.7,3530.8 L435.5,3529.8 L438.3,3528.8 L441.1,3527.8 L443.9,3526.8 L446.8,3525.8 L449.6,3524.9 L452.4,3524.0 L455.3,3523.1 L458.2,3522.2 L461.0,3521.3 L463.9,3520.5 L466.8,3519.6 L469.6,3518.8 L472.5,3518.0" fill="none" stroke="#000" stroke-width="12.5" stroke-linejoin="round" stroke-linecap="round"/><path d="M472.5,3518.0 L475.4,3517.2 L478.3,3516.4 L481.2,3515.7 L484.1,3514.9 L487.0,3514.2 L489.9,3513.5 L492.8,3512.8 L495.8,3512.1 L498.7,3511.4 L501.6,3510.7 L504.5,3510.0 L507.5,3509.4 L510.4,3508.7 L513.3,3508.1 L516.3,3507.5 L519.2,3506.9 L522.2,3506.3 L525.1,3505.7 L528.1,3505.1 L531.0,3504.5 L534.0,3503.9 L536.9,3503.4 L539.9,3502.8 L542.8,3502.2 L545.8,3501.7 L548.8,3501.1 L551.7,3500.6 L554.7,3500.0 L557.6,3499.5 L560.6,3498.9 L563.6,3498.4 L566.5,3497.8 L569.5,3497.2 L572.4,3496.7 L575.4,3496.1 L578.4,3495.5 L581.3,3495.0 L584.3,3494.4 L587.2,3493.8 L590.2,3493.2 L593.1,3492.6 L596.0,3491.9 L599.0,3491.3 L601.9,3490.7 L604.9,3490.0 L607.8,3489.3 L610.7,3488.7 L613.6,3488.0 L616.5,3487.3 L619.5,3486.5 L622.4,3485.8 L625.3,3485.0 L628.2,3484.2 L631.1,3483.4" fill="none" stroke="#000" stroke-width="13.0" stroke-linejoin="round" stroke-linecap="round"/><path d="M631.1,3483.4 L634.0,3482.6 L636.8,3481.8 L639.7,3480.9 L642.6,3480.0 L645.4,3479.1 L648.3,3478.1 L651.2,3477.2 L654.0,3476.2 L656.8,3475.2 L659.6,3474.2 L662.5,3473.1 L665.3,3472.0 L668.1,3470.9 L670.8,3469.8 L673.6,3468.6 L676.4,3467.4 L679.1,3466.2 L681.9,3465.0 L684.6,3463.7 L687.3,3462.4 L690.0,3461.1 L692.7,3459.7 L695.4,3458.4 L698.0,3456.9" fill="none" stroke="#000" stroke-width="12.5" stroke-linejoin="round" stroke-linecap="round"/><path d="M698.0,3456.9 L700.7,3455.5 L703.3,3454.1 L705.9,3452.6 L708.5,3451.1 L711.1,3449.6 L713.7,3448.1 L716.3,3446.5 L718.9,3445.0 L721.5,3443.4 L724.0,3441.8 L726.6,3440.2 L729.1,3438.6 L731.7,3437.0 L734.2,3435.4 L736.8,3433.8 L739.3,3432.2 L741.8,3430.5 L744.3,3428.9 L746.8,3427.2 L749.4,3425.6 L751.9,3423.9 L754.4,3422.2 L756.9,3420.5 L759.3,3418.8 L761.8,3417.1 L764.3,3415.4 L766.8,3413.7 L769.3,3412.0 L771.7,3410.3 L774.2,3408.5 L776.7,3406.8 L779.1,3405.1 L781.6,3403.3 L784.0,3401.6 L786.5,3399.8 L788.9,3398.1 L791.4,3396.3 L793.8,3394.5 L796.2,3392.7 L798.7,3391.0 L801.1,3389.2 L803.5,3387.4 L806.0,3385.6 L808.4,3383.8 L810.8,3382.0 L813.2,3380.2 L815.6,3378.5 L818.1,3376.7 L820.5,3374.9" fill="none" stroke="#000" stroke-width="12.0" stroke-linejoin="round" stroke-linecap="round"/><path d="M820.5,3374.9 L822.9,3373.1 L825.3,3371.2 L827.7,3369.4 L830.1,3367.6 L832.5,3365.8 L834.9,3364.0 L837.4,3362.2 L839.8,3360.4 L842.2,3358.6 L844.6,3356.8 L847.0,3355.0 L849.4,3353.2 L851.8,3351.4 L854.2,3349.6 L856.6,3347.8 L859.0,3346.0 L861.4,3344.2 L863.8,3342.4 L866.2,3340.6 L868.6,3338.8" fill="none" stroke="#000" stroke-width="11.5" stroke-linejoin="round" stroke-linecap="round"/><path d="M868.6,3338.8 L871.0,3337.0 L873.5,3335.2 L875.9,3333.4 L878.3,3331.6 L880.7,3329.8 L883.1,3328.1 L885.5,3326.3 L888.0,3324.5 L890.4,3322.7 L892.8,3321.0 L895.3,3319.2 L897.7,3317.5 L900.1,3315.7 L902.6,3314.0 L905.0,3312.3 L907.5,3310.5 L910.0,3308.8 L912.4,3307.1 L914.9,3305.4 L917.4,3303.7 L919.9,3302.0 L922.4,3300.3 L924.9,3298.6 L927.4,3297.0 L929.9,3295.3 L932.5,3293.6 L935.0,3292.0 L937.6,3290.4 L940.1,3288.7 L942.7,3287.1 L945.2,3285.5 L947.8,3283.9 L950.4,3282.4 L953.0,3280.8 L955.7,3279.3 L958.3,3277.8 L961.0,3276.4 L963.6,3275.0" fill="none" stroke="#000" stroke-width="12.0" stroke-linejoin="round" stroke-linecap="round"/><path d="M963.6,3275.0 L966.3,3273.6 L969.0,3272.3 L971.8,3271.0 L974.5,3269.8 L977.3,3268.6 L980.1,3267.5 L982.9,3266.4 L985.7,3265.4 L988.6,3264.5 L991.5,3263.7 L994.4,3262.9" fill="none" stroke="#000" stroke-width="12.5" stroke-linejoin="round" stroke-linecap="round"/><path d="M994.4,3262.9 L997.3,3262.2 L1000.3,3261.5 L1003.2,3261.0 L1006.2,3260.5 L1009.2,3260.1 L1012.2,3259.8 L1015.2,3259.5 L1018.2,3259.4 L1021.2,3259.3 L1024.2,3259.3 L1027.2,3259.3 L1030.2,3259.5 L1033.2,3259.7 L1036.2,3260.0 L1039.2,3260.4 L1042.1,3260.9 L1045.1,3261.4 L1048.0,3262.1 L1050.8,3262.8 L1053.7,3263.6" fill="none" stroke="#000" stroke-width="13.0" stroke-linejoin="round" stroke-linecap="round"/><path d="M1053.7,3263.6 L1056.5,3264.5 L1059.3,3265.5 L1062.1,3266.6 L1064.8,3267.7 L1067.5,3269.0 L1070.2,3270.3 L1072.8,3271.7" fill="none" stroke="#000" stroke-width="12.5" stroke-linejoin="round" stroke-linecap="round"/><path d="M1072.8,3271.7 L1075.4,3273.2 L1077.9,3274.7 L1080.4,3276.3 L1082.9,3278.0 L1085.4,3279.7 L1087.9,3281.4 L1090.3,3283.2" fill="none" stroke="#000" stroke-width="12.0" stroke-linejoin="round" stroke-linecap="round"/><path d="M1090.3,3283.2 L1092.7,3285.1 L1095.1,3286.9 L1097.5,3288.8 L1099.9,3290.7 L1102.3,3292.7 L1104.6,3294.6 L1107.0,3296.6 L1109.3,3298.6 L1111.7,3300.5 L1114.0,3302.5 L1116.3,3304.4 L1118.7,3306.4 L1121.0,3308.3 L1123.4,3310.3 L1125.7,3312.2 L1128.0,3314.1 L1130.4,3316.1 L1132.7,3318.0 L1135.1,3319.9 L1137.5,3321.8 L1139.8,3323.6 L1142.2,3325.5 L1144.6,3327.3 L1147.0,3329.1 L1149.4,3330.9 L1151.8,3332.7" fill="none" stroke="#000" stroke-width="11.5" stroke-linejoin="round" stroke-linecap="round"/><path d="M1151.8,3332.7 L1154.2,3334.5 L1156.7,3336.2 L1159.1,3338.0 L1161.6,3339.7 L1164.0,3341.3 L1166.5,3343.0 L1169.0,3344.6 L1171.6,3346.2 L1174.1,3347.7 L1176.7,3349.3 L1179.2,3350.8 L1181.8,3352.2 L1184.5,3353.7 L1187.1,3355.1" fill="none" stroke="#000" stroke-width="12.0" stroke-linejoin="round" stroke-linecap="round"/><path d="M1187.1,3355.1 L1189.8,3356.4 L1192.4,3357.8 L1195.1,3359.1 L1197.9,3360.3 L1200.6,3361.6 L1203.4,3362.7 L1206.1,3363.9 L1208.9,3365.0 L1211.7,3366.1 L1214.5,3367.2 L1217.4,3368.3 L1220.2,3369.3 L1223.1,3370.3 L1225.9,3371.2 L1228.8,3372.2 L1231.7,3373.1 L1234.6,3373.9 L1237.5,3374.8 L1240.4,3375.6 L1243.3,3376.4" fill="none" stroke="#000" stroke-width="12.5" stroke-linejoin="round" stroke-linecap="round"/><path d="M1243.3,3376.4 L1246.2,3377.2 L1249.1,3378.0 L1252.0,3378.7 L1255.0,3379.4 L1257.9,3380.1 L1260.8,3380.8 L1263.8,3381.4 L1266.7,3382.1 L1269.7,3382.7 L1272.6,3383.3 L1275.6,3383.8 L1278.5,3384.4 L1281.5,3384.9 L1284.4,3385.4 L1287.4,3385.9 L1290.4,3386.4 L1293.4,3386.9 L1296.3,3387.3 L1299.3,3387.7 L1302.3,3388.2 L1305.3,3388.5 L1308.3,3388.9 L1311.2,3389.3 L1314.2,3389.6 L1317.2,3390.0 L1320.2,3390.3 L1323.2,3390.6 L1326.2,3390.9 L1329.2,3391.2 L1332.2,3391.5 L1335.2,3391.7 L1338.2,3392.0 L1341.2,3392.2 L1344.2,3392.4 L1347.2,3392.6 L1350.2,3392.9 L1353.2,3393.0 L1356.2,3393.2" fill="none" stroke="#000" stroke-width="13.0" stroke-linejoin="round" stroke-linecap="round"/>
<path d="M308.0,3578.0 L311.0,3577.7 L314.0,3577.3 L317.0,3577.0 L320.1,3576.6 L323.1,3576.2 L326.1,3575.8 L329.0,3575.4 L332.0,3574.9 L335.0,3574.4 L338.0,3573.9 L340.9,3573.4 L343.9,3572.8 L346.8,3572.3 L349.8,3571.7 L352.7,3571.1 L355.7,3570.5 L358.6,3569.9 L361.5,3569.3 L364.5,3568.6 L367.4,3568.0 L370.3,3567.3 L373.2,3566.7 L376.1,3566.0 L379.1,3565.3 L382.0,3564.6 L384.9,3564.0 L387.8,3563.3 L390.7,3562.6 L393.6,3561.9 L396.5,3561.3 L399.5,3560.6 L402.4,3559.9 L405.3,3559.2 L408.2,3558.6 L411.1,3557.9 L414.1,3557.3 L417.0,3556.7 L419.9,3556.0 L422.9,3555.4 L425.8,3554.8 L428.7,3554.2 L431.7,3553.6 L434.6,3553.0 L437.6,3552.5 L440.5,3551.9 L443.5,3551.4 L446.4,3550.8 L449.4,3550.3 L452.3,3549.8 L455.3,3549.3 L458.3,3548.8 L461.2,3548.3 L464.2,3547.8 L467.2,3547.3 L470.1,3546.8 L473.1,3546.4 L476.1,3545.9 L479.1,3545.5 L482.0,3545.1 L485.0,3544.6 L488.0,3544.2 L491.0,3543.8 L494.0,3543.4 L496.9,3543.0 L499.9,3542.7 L502.9,3542.3 L505.9,3541.9 L508.9,3541.6 L511.9,3541.2 L514.9,3540.9 L517.9,3540.6 L520.9,3540.2 L523.9,3539.9 L526.9,3539.6 L529.8,3539.2 L532.8,3538.9 L535.8,3538.6 L538.8,3538.2 L541.8,3537.9 L544.8,3537.5 L547.8,3537.2 L550.8,3536.8 L553.8,3536.4 L556.8,3536.1 L559.8,3535.7 L562.8,3535.3 L565.7,3534.9 L568.7,3534.5 L571.7,3534.1 L574.7,3533.7 L577.7,3533.3 L580.7,3532.8 L583.7,3532.4 L586.6,3532.0 L589.6,3531.5 L592.6,3531.1 L595.6,3530.6 L598.5,3530.1 L601.5,3529.6 L604.5,3529.1 L607.5,3528.6 L610.4,3528.1 L613.4,3527.6 L616.4,3527.0 L619.3,3526.5 L622.3,3525.9 L625.3,3525.4 L628.2,3524.8 L631.2,3524.2 L634.1,3523.6 L637.1,3523.0 L640.0,3522.4 L643.0,3521.8 L645.9,3521.1 L648.9,3520.5 L651.8,3519.8 L654.7,3519.1 L657.7,3518.4 L660.6,3517.7 L663.5,3517.0 L666.4,3516.2 L669.3,3515.4 L672.2,3514.6 L675.1,3513.8" fill="none" stroke="#000" stroke-width="13.0" stroke-linejoin="round" stroke-linecap="round"/><path d="M675.1,3513.8 L678.0,3513.0 L680.9,3512.1 L683.8,3511.3 L686.6,3510.4 L689.5,3509.4 L692.4,3508.5 L695.2,3507.5 L698.0,3506.5 L700.8,3505.5 L703.6,3504.4 L706.4,3503.3 L709.2,3502.2 L712.0,3501.1 L714.8,3499.9 L717.6,3498.8 L720.3,3497.6 L723.1,3496.4 L725.9,3495.2 L728.6,3494.0 L731.4,3492.8 L734.1,3491.6 L736.9,3490.4 L739.6,3489.1 L742.4,3487.9 L745.1,3486.7 L747.9,3485.5 L750.6,3484.2 L753.4,3483.0 L756.1,3481.8 L758.9,3480.6 L761.6,3479.4 L764.4,3478.2 L767.1,3476.9 L769.9,3475.7 L772.6,3474.5 L775.4,3473.3 L778.2,3472.1 L780.9,3470.9 L783.7,3469.6 L786.4,3468.4 L789.2,3467.2 L791.9,3466.0 L794.7,3464.7 L797.4,3463.5 L800.2,3462.3 L802.9,3461.1 L805.7,3459.8 L808.4,3458.6 L811.2,3457.4 L813.9,3456.1 L816.7,3454.9 L819.4,3453.6 L822.2,3452.4 L824.9,3451.1 L827.7,3449.9 L830.4,3448.6 L833.1,3447.3 L835.9,3446.1 L838.6,3444.8 L841.4,3443.5 L844.1,3442.2 L846.8,3440.9 L849.6,3439.6 L852.3,3438.4 L855.0,3437.1 L857.8,3435.8 L860.5,3434.5 L863.2,3433.3 L866.0,3432.0 L868.7,3430.8 L871.5,3429.5 L874.2,3428.3 L877.0,3427.1 L879.8,3425.9 L882.5,3424.7 L885.3,3423.6 L888.1,3422.4 L890.9,3421.3 L893.7,3420.2 L896.5,3419.2 L899.3,3418.1 L902.1,3417.1 L904.9,3416.1 L907.7,3415.2 L910.6,3414.2 L913.4,3413.4 L916.3,3412.5 L919.2,3411.7" fill="none" stroke="#000" stroke-width="12.5" stroke-linejoin="round" stroke-linecap="round"/><path d="M919.2,3411.7 L922.1,3410.9 L925.0,3410.2 L927.9,3409.5 L930.8,3408.8 L933.7,3408.2 L936.7,3407.6 L939.6,3407.1 L942.6,3406.6 L945.6,3406.2 L948.6,3405.8 L951.6,3405.5 L954.7,3405.2 L957.7,3405.0 L960.7,3404.8 L963.8,3404.7 L966.8,3404.6 L969.9,3404.6 L972.9,3404.6 L975.9,3404.7 L979.0,3404.8 L982.0,3405.0 L985.1,3405.2 L988.1,3405.5 L991.1,3405.8 L994.1,3406.2 L997.1,3406.7 L1000.1,3407.2 L1003.1,3407.7 L1006.0,3408.3 L1009.0,3409.0 L1011.9,3409.7 L1014.8,3410.5 L1017.7,3411.3" fill="none" stroke="#000" stroke-width="13.0" stroke-linejoin="round" stroke-linecap="round"/><path d="M1017.7,3411.3 L1020.6,3412.2 L1023.4,3413.1 L1026.2,3414.1 L1029.1,3415.1 L1031.9,3416.2 L1034.6,3417.3 L1037.4,3418.4 L1040.2,3419.6 L1042.9,3420.9 L1045.6,3422.1 L1048.3,3423.4 L1051.1,3424.7 L1053.8,3426.1 L1056.4,3427.4 L1059.1,3428.8" fill="none" stroke="#000" stroke-width="12.5" stroke-linejoin="round" stroke-linecap="round"/><path d="M1059.1,3428.8 L1061.8,3430.2 L1064.5,3431.7 L1067.1,3433.1 L1069.8,3434.5 L1072.4,3436.0 L1075.1,3437.5 L1077.7,3439.0 L1080.4,3440.5 L1083.0,3442.0 L1085.7,3443.4 L1088.3,3444.9 L1091.0,3446.4 L1093.6,3447.9 L1096.3,3449.4 L1098.9,3450.8 L1101.6,3452.2 L1104.2,3453.7 L1106.9,3455.1 L1109.6,3456.5" fill="none" stroke="#000" stroke-width="12.0" stroke-linejoin="round" stroke-linecap="round"/><path d="M1109.6,3456.5 L1112.3,3457.8 L1115.0,3459.2 L1117.7,3460.5 L1120.4,3461.8 L1123.1,3463.1 L1125.9,3464.3 L1128.6,3465.5 L1131.4,3466.6 L1134.2,3467.7 L1137.0,3468.8 L1139.8,3469.9 L1142.6,3470.9 L1145.4,3471.8 L1148.2,3472.8 L1151.1,3473.7 L1153.9,3474.5 L1156.8,3475.4 L1159.7,3476.2" fill="none" stroke="#000" stroke-width="12.5" stroke-linejoin="round" stroke-linecap="round"/><path d="M1159.7,3476.2 L1162.6,3477.0 L1165.5,3477.7 L1168.4,3478.4 L1171.3,3479.1 L1174.2,3479.7 L1177.2,3480.3 L1180.1,3480.9 L1183.1,3481.5 L1186.0,3482.0 L1189.0,3482.5 L1192.0,3483.0 L1194.9,3483.4 L1197.9,3483.8 L1200.9,3484.2 L1203.9,3484.5 L1206.9,3484.9 L1209.9,3485.2 L1212.9,3485.5 L1215.9,3485.7 L1218.9,3486.0 L1221.9,3486.2 L1224.9,3486.3 L1228.0,3486.5 L1231.0,3486.6 L1234.0,3486.7 L1237.0,3486.8 L1240.1,3486.9 L1243.1,3487.0 L1246.1,3487.0 L1249.1,3487.0 L1252.2,3487.0 L1255.2,3486.9 L1258.2,3486.9 L1261.2,3486.8 L1264.3,3486.7 L1267.3,3486.6 L1270.3,3486.5 L1273.3,3486.4 L1276.4,3486.2 L1279.4,3486.0 L1282.4,3485.8 L1285.4,3485.6 L1288.4,3485.4 L1291.4,3485.1 L1294.4,3484.8 L1297.4,3484.5 L1300.4,3484.2 L1303.4,3483.9 L1306.4,3483.6 L1309.4,3483.3 L1312.4,3482.9 L1315.4,3482.5 L1318.4,3482.1 L1321.4,3481.7 L1324.4,3481.3 L1327.3,3480.8 L1330.3,3480.4 L1333.3,3479.9 L1336.2,3479.5 L1339.2,3479.0 L1342.1,3478.5 L1345.1,3477.9 L1348.0,3477.4 L1351.0,3476.9 L1353.9,3476.3 L1356.8,3475.8 L1359.8,3475.2 L1362.7,3474.6" fill="none" stroke="#000" stroke-width="13.0" stroke-linejoin="round" stroke-linecap="round"/>
<path d="M302,3560 L330,3556 L360,3551 L372,3556 L372,3570 L340,3578 L312,3584 L303,3580 Z" fill="#000"/>
<line x1="1364.5" y1="3038" x2="1364.5" y2="3080" stroke="#000" stroke-width="8" stroke-linecap="round"/>
<line x1="1357.8" y1="3392" x2="1357.8" y2="3407" stroke="#000" stroke-width="6"/>
</svg></body></html>
